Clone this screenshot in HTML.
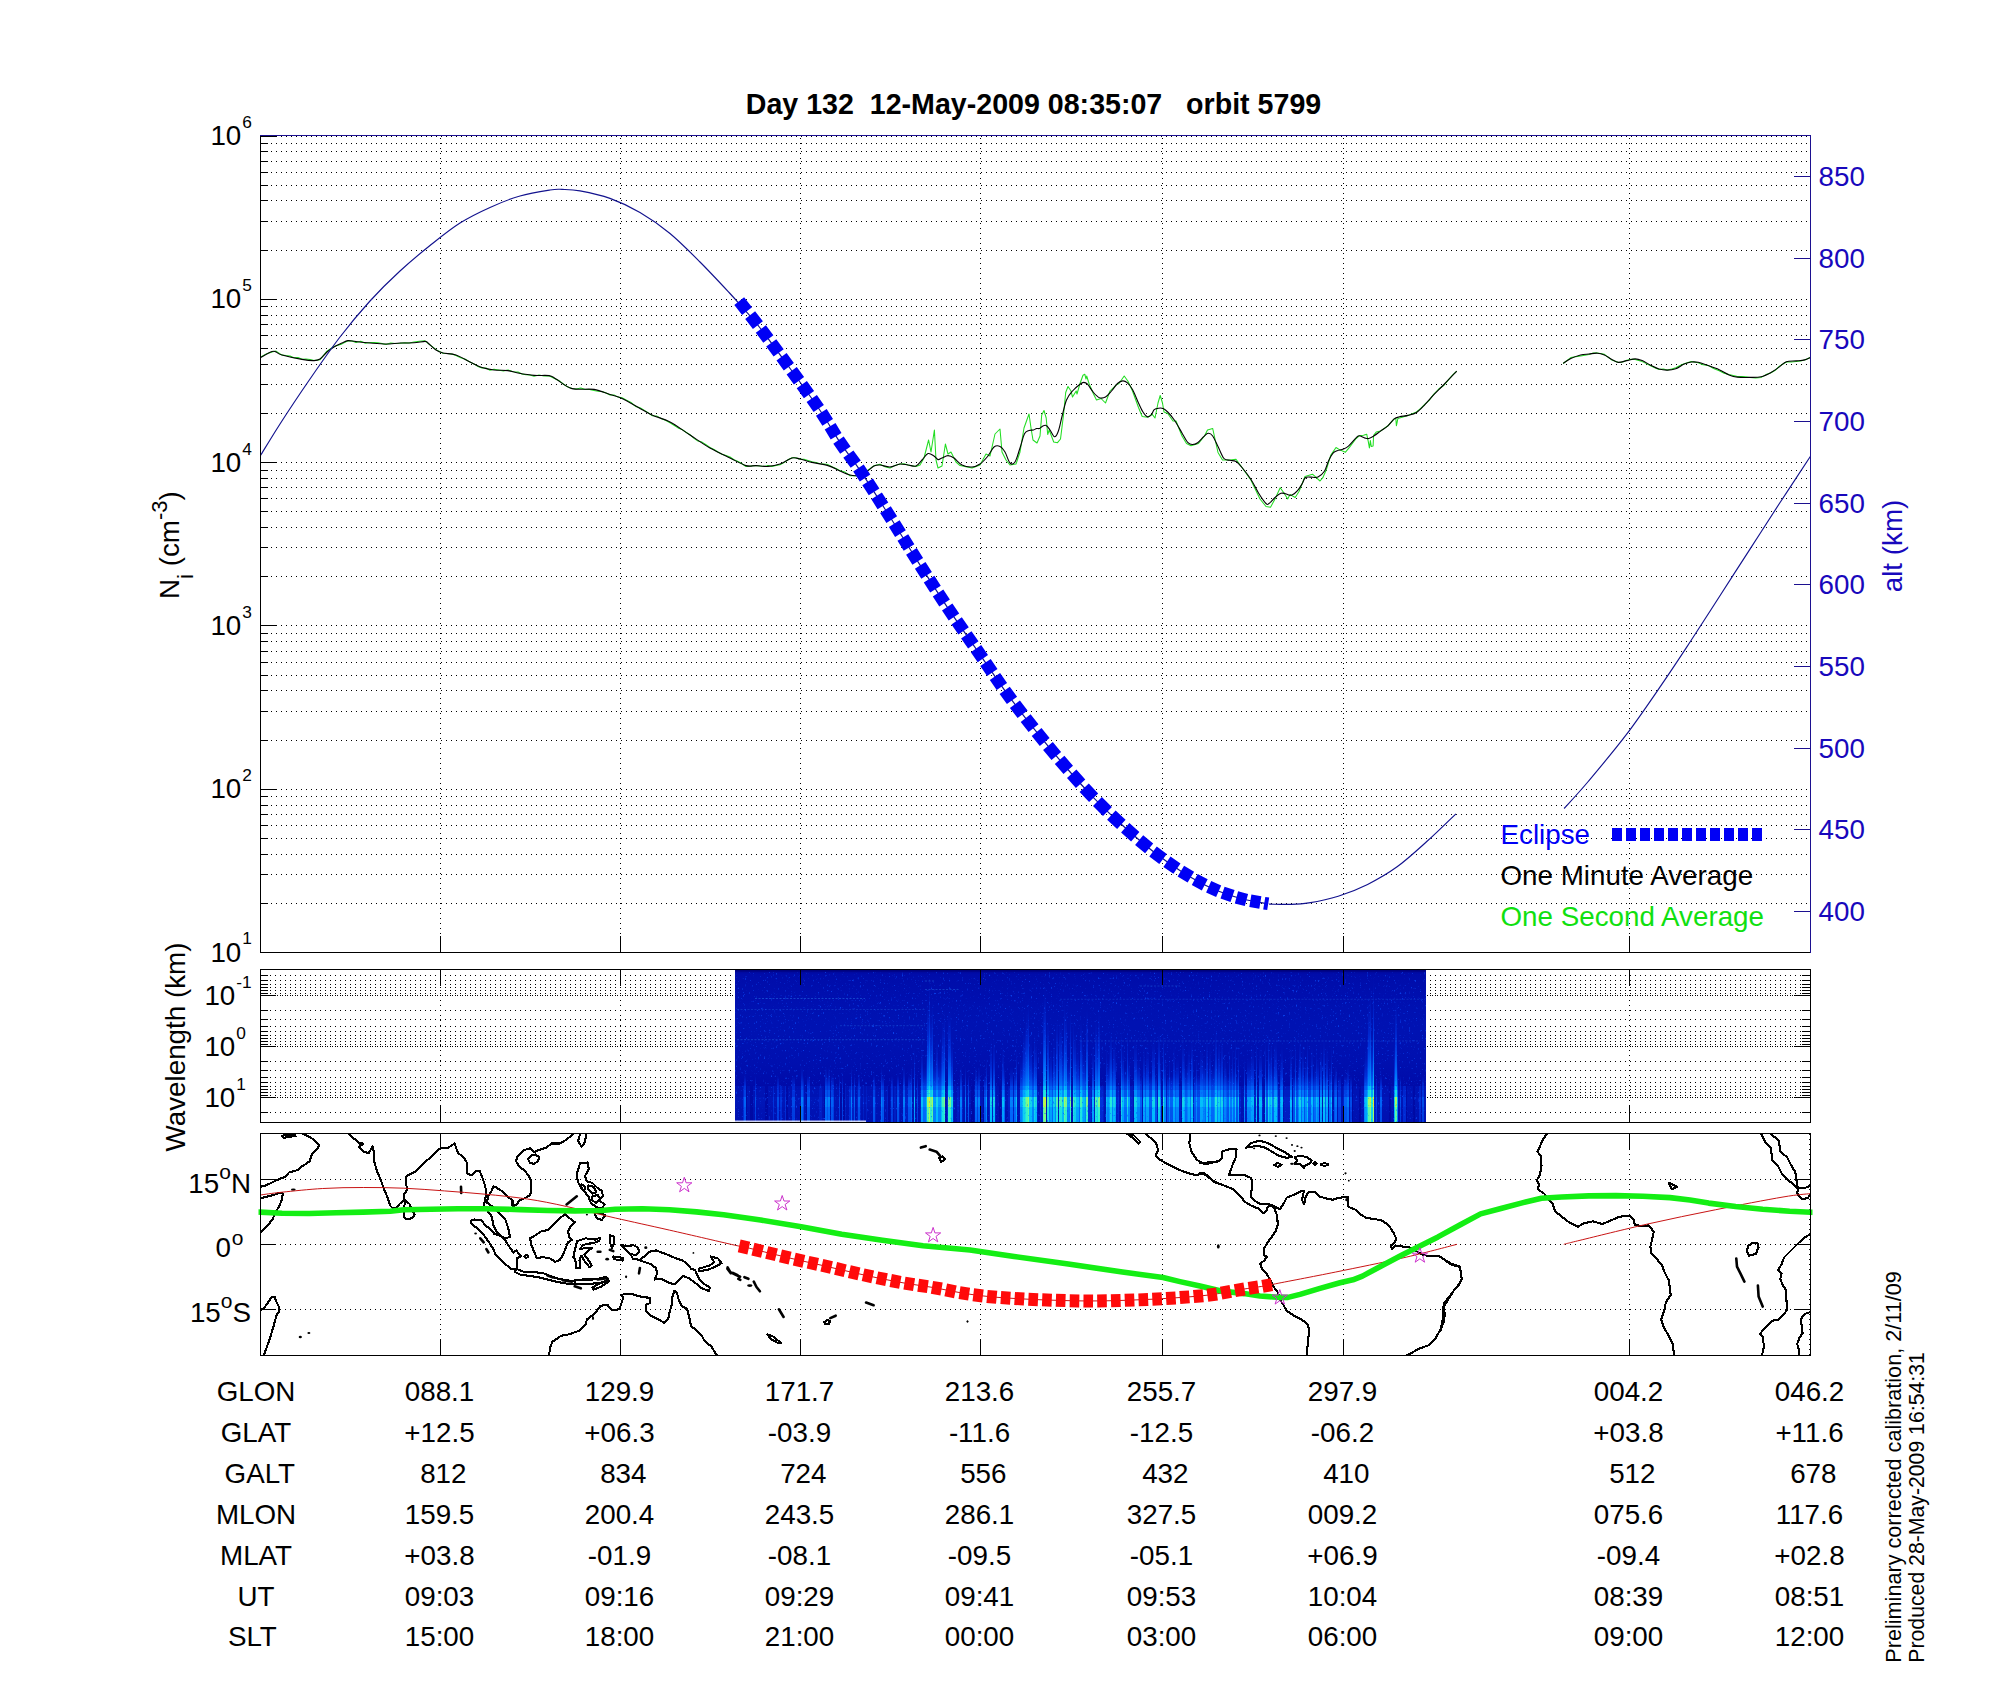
<!DOCTYPE html>
<html><head><meta charset="utf-8"><title>chart</title><style>html,body{margin:0;padding:0;background:#fff}body{width:2000px;height:1700px;overflow:hidden;font-family:"Liberation Sans",sans-serif}</style></head><body>
<svg width="2000" height="1700" viewBox="0 0 2000 1700" style="display:block">
<rect width="2000" height="1700" fill="#fff"/>
<g shape-rendering="crispEdges">
<path d="M261,136.5H1810M261,903.5H1810M261,874.5H1810M261,854.5H1810M261,838.5H1810M261,825.5H1810M261,814.5H1810M261,805.5H1810M261,796.5H1810M261,789.5H1810M261,740.5H1810M261,711.5H1810M261,690.5H1810M261,675.5H1810M261,662.5H1810M261,651.5H1810M261,641.5H1810M261,633.5H1810M261,625.5H1810M261,576.5H1810M261,547.5H1810M261,527.5H1810M261,511.5H1810M261,498.5H1810M261,487.5H1810M261,478.5H1810M261,470.5H1810M261,462.5H1810M261,413.5H1810M261,384.5H1810M261,364.5H1810M261,348.5H1810M261,335.5H1810M261,324.5H1810M261,315.5H1810M261,306.5H1810M261,299.5H1810M261,250.5H1810M261,221.5H1810M261,200.5H1810M261,185.5H1810M261,172.5H1810M261,161.5H1810M261,151.5H1810M261,143.5H1810" stroke="#000" stroke-width="1" stroke-dasharray="1 4" fill="none"/>
<path d="M440.5,138V952M620.5,138V952M800.5,138V952M980.5,138V952M1162.5,138V952M1343.5,138V952M1629.5,138V952" stroke="#000" stroke-width="1" stroke-dasharray="1 4" fill="none"/>
</g>
<g clip-path="url(#cp1)"><path d="M260.4,357.2 L266.2,353.9 L272.0,351.9 L276.0,351.1 L282.0,355.1 L286.0,355.6 L290.0,355.9 L294.0,357.7 L298.0,357.6 L302.0,359.3 L306.0,358.9 L310.0,359.4 L314.0,360.4 L320.0,359.7 L327.0,351.2 L334.0,346.4 L338.0,345.3 L342.0,343.9 L348.0,340.8 L352.0,340.9 L356.0,342.6 L360.7,341.2 L365.3,343.3 L370.0,342.6 L374.0,342.5 L378.0,342.7 L382.0,343.4 L386.0,344.6 L390.7,343.0 L395.3,343.5 L400.0,343.3 L404.7,342.7 L409.3,343.0 L414.0,341.9 L419.5,341.2 L425.0,340.8 L428.0,343.4 L432.0,346.4 L436.0,349.6 L443.0,353.2 L447.3,353.6 L451.7,353.9 L456.0,355.6 L460.7,357.7 L465.3,359.2 L470.0,362.1 L474.0,363.9 L478.0,366.5 L482.0,368.1 L486.0,368.0 L490.0,370.2 L494.0,369.2 L498.7,370.0 L503.3,370.9 L508.0,369.9 L513.0,371.8 L518.0,372.1 L522.0,373.9 L526.0,374.7 L530.0,374.9 L534.0,376.2 L539.0,375.1 L544.0,375.9 L549.0,375.8 L556.0,379.2 L560.0,381.3 L564.0,384.5 L568.0,387.1 L572.0,388.5 L576.4,389.1 L580.8,388.0 L585.2,389.5 L589.6,389.5 L594.0,390.4 L598.0,391.3 L602.0,391.6 L606.0,393.1 L610.0,394.9 L614.0,394.9 L618.0,397.1 L622.0,397.7 L626.5,400.1 L631.0,402.5 L635.5,406.4 L640.0,407.7 L644.0,410.1 L648.0,412.6 L652.0,415.7 L656.5,415.9 L661.0,418.4 L665.5,420.3 L670.0,422.8 L674.0,425.2 L678.0,427.9 L682.0,429.4 L686.0,432.2 L690.0,434.7 L694.0,438.4 L698.0,441.1 L702.0,442.1 L706.0,444.8 L710.0,447.5 L714.0,449.5 L718.0,452.0 L722.0,454.2 L726.0,455.5 L730.0,457.0 L734.0,459.7 L738.0,461.5 L742.0,463.8 L746.0,466.5 L751.0,466.0 L756.0,465.6 L760.0,466.1 L764.0,466.5 L768.0,465.5 L772.0,466.4 L776.0,465.4 L780.0,464.7 L784.0,462.6 L788.0,459.8 L792.0,457.8 L796.0,457.7 L800.0,459.3 L804.0,459.3 L808.0,460.4 L812.0,461.8 L816.0,462.5 L820.0,463.7 L824.0,463.9 L828.0,464.6 L832.0,466.7 L836.0,468.4 L840.0,470.7 L845.0,472.1 L850.0,475.7 L857.0,475.8 L861.5,473.1 L866.0,471.5 L870.0,468.7 L874.0,465.7 L880.0,464.2 L885.0,466.7 L890.0,468.0 L895.0,465.4 L900.0,464.0 L904.0,463.7 L908.0,465.0 L916.0,466.4 L920.0,465.0 L924.0,458.0 L928.6,440.0 L931.0,452.0 L934.4,430.0 L936.0,460.0 L938.0,468.0 L942.0,466.0 L945.4,444.0 L948.0,454.0 L951.0,452.0 L956.0,462.0 L960.0,465.6 L972.0,468.0 L980.0,465.0 L986.0,454.0 L990.0,456.0 L995.0,434.0 L1000.0,429.0 L1002.0,452.0 L1006.0,460.0 L1010.0,465.0 L1016.0,464.0 L1020.0,452.0 L1024.0,428.0 L1029.0,414.0 L1031.0,428.0 L1033.0,440.0 L1037.0,443.0 L1040.0,436.0 L1041.7,415.0 L1044.0,410.5 L1046.2,418.0 L1047.7,434.5 L1049.2,430.0 L1053.7,442.0 L1057.5,442.7 L1060.5,439.0 L1063.5,415.0 L1065.7,392.5 L1068.0,386.5 L1071.0,391.0 L1072.5,397.0 L1076.2,391.0 L1077.0,394.0 L1080.0,383.5 L1083.0,375.2 L1084.8,374.2 L1086.0,379.0 L1086.7,376.0 L1089.0,383.5 L1093.5,394.0 L1096.5,400.0 L1101.0,398.5 L1105.5,403.0 L1110.0,391.0 L1116.0,385.0 L1119.0,383.5 L1124.2,376.0 L1128.0,381.2 L1132.5,391.0 L1138.5,407.5 L1142.2,416.5 L1147.5,417.2 L1152.0,414.2 L1155.0,418.0 L1158.0,403.0 L1160.2,395.5 L1162.5,403.0 L1164.0,412.0 L1167.7,413.5 L1173.0,421.0 L1176.0,421.0 L1182.0,436.0 L1186.5,443.5 L1191.0,445.7 L1198.5,443.5 L1204.5,436.0 L1207.5,430.0 L1212.7,428.5 L1215.0,439.0 L1218.0,452.5 L1222.5,460.0 L1230.0,460.0 L1236.0,459.2 L1242.0,467.5 L1251.0,480.2 L1260.0,499.0 L1266.0,506.5 L1270.5,507.2 L1275.0,499.0 L1280.2,487.7 L1284.0,493.0 L1287.7,499.0 L1290.0,494.5 L1295.2,497.5 L1299.0,491.5 L1305.0,476.5 L1312.5,474.2 L1320.0,481.0 L1322.8,477.7 L1326.5,469.2 L1330.7,455.4 L1336.0,447.5 L1340.2,450.1 L1345.5,452.2 L1349.8,446.9 L1356.1,438.5 L1359.3,435.8 L1363.5,435.3 L1366.7,434.2 L1368.3,441.7 L1369.4,448.0 L1370.4,440.6 L1371.2,446.4 L1373.1,445.9 L1373.6,435.3 L1376.2,432.1 L1380.5,431.1 L1387.9,425.8 L1394.2,418.9 L1395.8,418.4 L1396.4,425.8 L1397.9,418.4 L1408.0,415.4 L1416.5,411.9 L1420.7,408.3 L1424.9,404.2 L1429.2,400.4 L1433.4,394.6 L1438.7,389.0 L1444.0,385.2 L1448.2,380.1 L1452.5,375.1 L1456.7,371.2" stroke="#22dd22" stroke-width="1.05" fill="none" stroke-linejoin="round"/><path d="M1563.1,363.5 L1570.8,357.6 L1575.7,356.8 L1580.6,356.0 L1584.8,355.2 L1589.0,354.4 L1593.2,353.1 L1597.4,352.9 L1604.4,354.3 L1611.4,359.7 L1618.4,362.5 L1622.6,362.1 L1626.8,360.3 L1631.0,359.2 L1635.2,359.5 L1642.2,361.6 L1646.4,363.6 L1650.6,365.8 L1654.8,367.7 L1659.0,369.5 L1663.2,369.0 L1667.4,370.1 L1671.6,369.1 L1675.8,367.8 L1680.0,365.5 L1684.2,363.7 L1691.2,361.5 L1698.2,362.7 L1703.1,364.8 L1708.0,365.4 L1713.6,368.5 L1719.2,370.7 L1724.1,373.2 L1729.0,374.6 L1733.2,375.4 L1737.4,376.6 L1741.6,376.6 L1745.8,376.7 L1750.0,377.6 L1755.6,377.9 L1761.2,377.4 L1766.1,374.6 L1771.0,372.8 L1775.2,370.3 L1779.4,366.1 L1786.4,362.0 L1791.3,362.1 L1796.2,361.5 L1800.4,360.9 L1804.6,359.9 L1810.2,357.5" stroke="#22dd22" stroke-width="1.05" fill="none" stroke-linejoin="round"/><path d="M260.4,357.6 C262.3,356.6 269.4,352.5 272.0,351.6 C274.6,350.7 274.3,351.4 276.0,352.0 C277.7,352.6 277.7,353.8 282.0,355.0 C286.3,356.2 296.7,358.5 302.0,359.4 C307.3,360.3 311.0,360.7 314.0,360.6 C317.0,360.5 317.8,360.4 320.0,359.0 C322.2,357.6 324.7,354.0 327.0,352.0 C329.3,350.0 331.5,348.5 334.0,347.0 C336.5,345.5 339.7,344.1 342.0,343.0 C344.3,341.9 345.7,340.8 348.0,340.6 C350.3,340.4 352.3,341.2 356.0,341.6 C359.7,342.0 365.0,342.6 370.0,343.0 C375.0,343.4 381.0,344.0 386.0,344.0 C391.0,344.0 395.3,343.2 400.0,343.0 C404.7,342.8 409.8,343.1 414.0,342.8 C418.2,342.5 422.7,341.4 425.0,341.4 C427.3,341.4 426.2,341.6 428.0,343.0 C429.8,344.4 433.5,348.3 436.0,350.0 C438.5,351.7 439.7,352.2 443.0,353.0 C446.3,353.8 451.5,353.5 456.0,355.0 C460.5,356.5 465.7,359.9 470.0,362.0 C474.3,364.1 478.0,366.3 482.0,367.6 C486.0,368.9 489.7,369.5 494.0,370.0 C498.3,370.5 504.0,370.1 508.0,370.6 C512.0,371.1 513.7,372.2 518.0,373.0 C522.3,373.8 528.8,375.0 534.0,375.4 C539.2,375.8 545.3,375.0 549.0,375.6 C552.7,376.2 552.2,376.8 556.0,379.0 C559.8,381.2 565.7,386.9 572.0,388.6 C578.3,390.3 587.7,388.4 594.0,389.4 C600.3,390.4 605.3,393.1 610.0,394.6 C614.7,396.1 617.0,396.1 622.0,398.4 C627.0,400.7 635.0,405.6 640.0,408.4 C645.0,411.2 647.0,412.7 652.0,415.0 C657.0,417.3 663.7,418.7 670.0,422.0 C676.3,425.3 683.3,430.7 690.0,435.0 C696.7,439.3 703.3,444.2 710.0,448.0 C716.7,451.8 724.0,455.1 730.0,458.0 C736.0,460.9 741.7,464.3 746.0,465.6 C750.3,466.9 752.3,465.5 756.0,465.6 C759.7,465.7 764.0,466.7 768.0,466.4 C772.0,466.1 776.0,465.4 780.0,464.0 C784.0,462.6 788.7,458.8 792.0,458.0 C795.3,457.2 796.7,458.3 800.0,459.0 C803.3,459.7 807.3,461.3 812.0,462.4 C816.7,463.5 823.3,464.2 828.0,465.6 C832.7,467.0 836.3,469.4 840.0,471.0 C843.7,472.6 847.2,474.2 850.0,475.0 C852.8,475.8 854.3,476.1 857.0,475.6 C859.7,475.1 863.2,473.6 866.0,472.0 C868.8,470.4 871.7,467.2 874.0,466.0 C876.3,464.8 877.3,464.8 880.0,465.0 C882.7,465.2 886.7,467.2 890.0,467.0 C893.3,466.8 897.0,464.3 900.0,464.0 C903.0,463.7 905.3,464.7 908.0,465.0 C910.7,465.3 913.7,466.8 916.0,466.0 C918.3,465.2 920.0,462.1 922.0,460.0 C924.0,457.9 926.0,454.3 928.0,453.6 C930.0,452.9 932.3,455.0 934.0,456.0 C935.7,457.0 936.7,459.3 938.0,459.6 C939.3,459.9 940.3,458.7 942.0,458.0 C943.7,457.3 946.0,455.6 948.0,455.6 C950.0,455.6 951.7,456.4 954.0,458.0 C956.3,459.6 959.0,463.5 962.0,465.0 C965.0,466.5 969.0,467.2 972.0,467.0 C975.0,466.8 977.3,465.8 980.0,464.0 C982.7,462.2 985.7,458.8 988.0,456.0 C990.3,453.2 992.0,448.6 994.0,447.0 C996.0,445.4 998.2,445.6 1000.0,446.4 C1001.8,447.2 1003.3,449.2 1005.0,452.0 C1006.7,454.8 1008.3,461.3 1010.0,463.0 C1011.7,464.7 1013.3,464.5 1015.0,462.0 C1016.7,459.5 1018.4,452.7 1020.0,448.0 C1021.6,443.3 1023.0,436.6 1024.5,433.7 C1026.0,430.8 1027.5,431.0 1029.0,430.4 C1030.5,429.8 1032.2,430.3 1033.5,430.0 C1034.8,429.7 1035.5,428.8 1036.5,428.5 C1037.5,428.2 1038.5,428.9 1039.5,428.5 C1040.5,428.1 1041.4,426.7 1042.5,426.2 C1043.6,425.7 1045.0,424.9 1046.2,425.5 C1047.5,426.1 1048.6,428.1 1050.0,430.0 C1051.4,431.9 1053.1,436.4 1054.5,436.7 C1055.9,436.9 1057.0,434.9 1058.2,431.5 C1059.5,428.1 1060.6,421.8 1062.0,416.5 C1063.4,411.2 1064.8,404.2 1066.5,400.0 C1068.2,395.8 1070.2,393.6 1072.5,391.0 C1074.8,388.4 1078.1,385.6 1080.0,384.2 C1081.9,382.8 1082.5,382.4 1083.7,382.4 C1085.0,382.4 1085.9,382.5 1087.5,384.2 C1089.1,385.9 1091.5,390.2 1093.5,392.5 C1095.5,394.8 1097.5,396.9 1099.5,397.7 C1101.5,398.4 1103.5,398.1 1105.5,397.0 C1107.5,395.9 1109.5,393.2 1111.5,391.0 C1113.5,388.8 1115.6,385.2 1117.5,383.5 C1119.4,381.8 1121.1,381.0 1122.7,380.9 C1124.3,380.8 1125.6,381.3 1127.2,382.7 C1128.8,384.1 1130.6,386.1 1132.5,389.5 C1134.4,392.9 1136.8,399.2 1138.5,403.0 C1140.2,406.8 1141.5,409.7 1143.0,412.0 C1144.5,414.3 1146.1,416.3 1147.5,416.8 C1148.9,417.3 1150.1,416.2 1151.2,415.0 C1152.3,413.8 1153.0,410.8 1154.2,409.7 C1155.5,408.6 1157.2,408.4 1158.7,408.2 C1160.2,408.0 1161.7,407.9 1163.2,408.5 C1164.7,409.1 1165.8,410.1 1167.7,412.0 C1169.6,413.9 1172.1,416.7 1174.5,420.2 C1176.9,423.7 1179.8,429.2 1182.0,433.0 C1184.2,436.8 1186.2,440.8 1188.0,442.7 C1189.8,444.6 1190.9,444.5 1192.5,444.5 C1194.1,444.5 1195.8,444.0 1197.7,442.7 C1199.6,441.4 1202.0,438.3 1203.7,436.7 C1205.5,435.1 1206.7,433.4 1208.2,433.3 C1209.7,433.2 1211.1,433.8 1212.7,436.0 C1214.3,438.2 1216.1,442.8 1218.0,446.5 C1219.9,450.2 1222.0,456.2 1224.0,458.5 C1226.0,460.8 1228.0,459.8 1230.0,460.3 C1232.0,460.8 1234.0,460.3 1236.0,461.5 C1238.0,462.7 1239.5,464.5 1242.0,467.5 C1244.5,470.5 1248.2,475.2 1251.0,479.5 C1253.8,483.8 1256.0,489.0 1258.5,493.0 C1261.0,497.0 1264.2,501.8 1266.0,503.5 C1267.8,505.2 1267.5,504.5 1269.0,503.5 C1270.5,502.5 1273.0,499.2 1275.0,497.5 C1277.0,495.8 1279.2,493.9 1281.0,493.3 C1282.8,492.7 1283.8,493.4 1285.5,493.7 C1287.2,494.0 1289.5,495.7 1291.5,495.2 C1293.5,494.7 1295.8,492.6 1297.5,490.7 C1299.2,488.8 1300.7,486.2 1302.0,484.0 C1303.3,481.8 1303.9,478.8 1305.3,477.7 C1306.7,476.6 1308.5,477.2 1310.6,477.1 C1312.7,477.0 1315.7,478.1 1318.0,477.1 C1320.3,476.1 1322.6,474.0 1324.4,471.3 C1326.2,468.6 1327.2,463.7 1328.6,460.7 C1330.0,457.7 1331.4,455.0 1332.8,453.3 C1334.2,451.6 1335.3,451.4 1337.1,450.7 C1338.9,450.0 1341.5,449.9 1343.4,449.1 C1345.3,448.3 1346.6,447.8 1348.7,445.9 C1350.8,444.0 1354.3,439.6 1356.1,437.9 C1357.9,436.2 1357.9,435.8 1359.3,435.8 C1360.7,435.8 1363.0,437.4 1364.6,437.9 C1366.2,438.3 1367.2,438.9 1368.8,438.5 C1370.4,438.1 1372.1,437.0 1374.1,435.8 C1376.0,434.6 1378.2,432.8 1380.5,431.1 C1382.8,429.4 1385.6,427.8 1387.9,425.8 C1390.2,423.8 1392.3,420.4 1394.2,418.9 C1396.1,417.4 1397.2,417.4 1399.5,416.8 C1401.8,416.2 1405.2,416.1 1408.0,415.4 C1410.8,414.7 1413.7,414.3 1416.5,412.5 C1419.3,410.7 1422.1,407.5 1424.9,404.6 C1427.7,401.7 1430.2,398.5 1433.4,395.1 C1436.6,391.8 1440.1,388.5 1444.0,384.5 C1447.9,380.5 1454.6,373.4 1456.7,371.2" stroke="#000" stroke-width="1.1" fill="none"/><path d="M1563.1,363.4 C1564.4,362.6 1567.9,359.9 1570.8,358.5 C1573.7,357.1 1577.6,355.8 1580.6,355.0 C1583.6,354.2 1586.2,354.3 1589.0,354.0 C1591.8,353.7 1594.8,353.0 1597.4,353.2 C1600.0,353.4 1602.1,354.0 1604.4,355.0 C1606.7,356.0 1609.1,358.0 1611.4,359.2 C1613.7,360.4 1615.8,362.2 1618.4,362.4 C1621.0,362.6 1624.0,361.2 1626.8,360.6 C1629.6,360.0 1632.6,358.9 1635.2,358.9 C1637.8,358.9 1639.6,359.6 1642.2,360.6 C1644.8,361.7 1647.8,363.8 1650.6,365.2 C1653.4,366.6 1656.2,368.2 1659.0,369.0 C1661.8,369.8 1664.6,370.2 1667.4,370.1 C1670.2,370.1 1673.0,369.7 1675.8,368.7 C1678.6,367.7 1681.6,365.2 1684.2,364.1 C1686.8,363.0 1688.9,362.3 1691.2,362.0 C1693.5,361.7 1695.4,361.7 1698.2,362.3 C1701.0,362.9 1704.5,364.3 1708.0,365.5 C1711.5,366.7 1715.7,368.1 1719.2,369.7 C1722.7,371.3 1726.0,373.7 1729.0,374.9 C1732.0,376.1 1733.9,376.7 1737.4,377.1 C1740.9,377.5 1746.0,377.5 1750.0,377.4 C1754.0,377.3 1757.7,377.5 1761.2,376.7 C1764.7,375.9 1768.0,374.1 1771.0,372.5 C1774.0,370.9 1776.8,368.7 1779.4,366.9 C1782.0,365.1 1783.6,362.7 1786.4,361.7 C1789.2,360.7 1793.2,361.2 1796.2,360.9 C1799.2,360.6 1802.3,360.5 1804.6,359.9 C1806.9,359.3 1809.3,357.9 1810.2,357.5" stroke="#000" stroke-width="1.1" fill="none"/><path d="M260.5,455.5 C263.8,450.2 271.8,436.8 280.0,424.0 C288.2,411.2 300.0,393.5 310.0,379.0 C320.0,364.5 330.0,350.0 340.0,337.0 C350.0,324.0 360.0,312.0 370.0,301.0 C380.0,290.0 390.0,280.2 400.0,271.0 C410.0,261.8 420.0,253.5 430.0,245.5 C440.0,237.5 450.0,229.3 460.0,223.0 C470.0,216.7 480.0,211.9 490.0,207.4 C500.0,202.9 510.0,198.9 520.0,196.0 C530.0,193.1 543.0,191.1 550.0,190.0 C557.0,188.9 557.0,189.2 562.0,189.4 C567.0,189.6 572.0,189.4 580.0,190.9 C588.0,192.4 600.0,194.8 610.0,198.4 C620.0,202.0 630.0,206.7 640.0,212.5 C650.0,218.3 660.0,225.2 670.0,233.5 C680.0,241.8 690.0,252.0 700.0,262.0 C710.0,272.0 723.0,286.0 730.0,293.5 C737.0,301.0 740.0,304.8 742.0,307.0" stroke="#12128e" stroke-width="1.15" fill="none"/><path d="M1269.1,904.1 C1272.3,904.1 1281.6,904.6 1288.2,904.4 C1294.8,904.2 1300.5,904.3 1308.8,902.9 C1317.1,901.5 1328.4,899.3 1338.2,896.2 C1348.0,893.1 1357.8,889.3 1367.6,884.4 C1377.4,879.5 1387.3,873.9 1397.1,866.8 C1406.9,859.7 1416.7,850.6 1426.5,841.8 C1436.3,833.0 1451.0,818.5 1455.9,813.8" stroke="#12128e" stroke-width="1.15" fill="none"/><path d="M1564.1,808.5 C1568.1,804.0 1577.8,793.9 1588.2,781.5 C1598.6,769.1 1614.2,750.6 1626.5,734.4 C1638.8,718.2 1651.0,700.1 1661.8,684.4 C1672.6,668.7 1681.4,655.2 1691.2,640.3 C1701.0,625.3 1710.8,609.9 1720.6,594.7 C1730.4,579.5 1740.2,564.3 1750.0,549.1 C1759.8,533.9 1769.4,518.9 1779.4,503.5 C1789.5,488.1 1805.2,464.3 1810.3,456.5" stroke="#12128e" stroke-width="1.15" fill="none"/><path d="M742.0,307.0 C745.0,310.5 752.1,317.8 760.1,328.0 C768.1,338.2 780.1,354.8 790.1,368.5 C800.1,382.2 811.7,398.1 820.1,410.5 C828.5,422.9 833.8,433.1 840.3,442.9 C846.8,452.7 851.3,457.4 859.4,469.4 C867.5,481.4 879.0,499.6 888.8,515.0 C898.6,530.5 908.4,546.7 918.2,562.1 C928.0,577.5 937.8,592.9 947.6,607.6 C957.4,622.3 967.3,636.1 977.1,650.3 C986.9,664.5 996.7,679.4 1006.5,692.9 C1016.3,706.4 1026.1,718.9 1035.9,731.2 C1045.7,743.5 1055.5,755.2 1065.3,766.5 C1075.1,777.8 1084.9,788.8 1094.7,798.8 C1104.5,808.8 1114.3,818.0 1124.1,826.8 C1133.9,835.6 1143.7,844.2 1153.5,851.8 C1163.3,859.4 1173.1,866.3 1182.9,872.4 C1192.7,878.5 1202.6,884.1 1212.4,888.5 C1222.2,892.9 1232.5,896.2 1241.8,898.8 C1251.1,901.3 1263.8,903.0 1268.2,903.8" stroke="#12128e" stroke-width="1.15" fill="none"/><path d="M734.3,305.1L742.1,315.1L752.0,307.3L744.1,297.3ZM745.2,319.0L752.9,329.0L762.9,321.2L755.1,311.2ZM755.8,332.8L763.3,342.8L773.4,335.2L765.9,325.2ZM766.2,346.6L773.6,356.6L783.7,349.2L776.3,339.2ZM776.5,360.5L783.8,370.5L793.9,363.1L786.6,353.1ZM786.6,374.4L793.9,384.4L804.1,377.0L796.8,367.0ZM796.7,388.3L803.9,398.3L814.1,390.9L806.9,380.9ZM806.6,402.1L813.6,412.1L823.9,404.9L816.9,394.9ZM816.0,415.8L822.4,425.8L833.0,419.0L826.7,409.0ZM824.7,429.6L830.7,439.6L841.5,433.0L835.5,423.0ZM833.3,443.8L840.2,453.8L850.6,446.6L843.7,436.6ZM843.3,457.8L850.7,467.8L860.8,460.4L853.4,450.4ZM853.2,471.5L859.8,481.5L870.3,474.5L863.7,464.5ZM862.3,485.3L868.8,495.3L879.4,488.5L872.9,478.5ZM871.3,499.2L877.6,509.2L888.3,502.4L881.9,492.4ZM880.1,513.1L886.4,523.1L897.1,516.3L890.8,506.3ZM888.9,526.9L895.1,536.9L905.8,530.3L899.6,520.3ZM897.5,540.8L903.7,550.8L914.4,544.2L908.2,534.2ZM906.1,554.8L912.4,564.8L923.1,558.0L916.8,548.0ZM914.9,568.7L921.3,578.7L931.9,571.9L925.5,561.9ZM923.8,582.6L930.2,592.6L940.8,585.8L934.4,575.8ZM932.8,596.6L939.3,606.6L949.9,599.6L943.3,589.6ZM942.0,610.5L948.7,620.5L959.2,613.5L952.4,603.5ZM951.5,624.5L958.4,634.5L968.8,627.3L961.8,617.3ZM961.1,638.4L968.1,648.4L978.5,641.2L971.5,631.2ZM970.8,652.3L977.7,662.3L988.0,655.1L981.2,645.1ZM980.3,666.1L987.1,676.1L997.5,669.1L990.7,659.1ZM989.8,680.1L996.7,690.1L1007.1,682.9L1000.1,672.9ZM999.6,694.1L1006.9,704.1L1017.1,696.7L1009.8,686.7ZM1009.9,708.1L1017.6,718.1L1027.6,710.5L1019.9,700.5ZM1020.7,722.1L1028.6,732.1L1038.5,724.3L1030.6,714.3ZM1031.7,736.1L1039.8,746.1L1049.6,738.1L1041.5,728.1ZM1043.1,750.0L1051.5,760.0L1061.1,752.0L1052.8,742.0ZM1054.8,764.0L1063.5,774.0L1073.0,765.8L1064.4,755.8ZM1067.0,778.0L1075.9,788.0L1085.3,779.6L1076.4,769.6ZM1079.6,792.0L1089.1,802.0L1098.2,793.4L1088.8,783.4ZM1093.0,806.1L1103.0,815.9L1111.9,806.9L1101.9,797.1ZM1107.1,819.7L1117.1,828.9L1125.6,819.7L1115.6,810.5ZM1121.1,832.5L1131.1,841.4L1139.4,832.0L1129.4,823.1ZM1135.1,844.9L1145.1,853.2L1153.2,843.5L1143.2,835.2ZM1149.3,856.5L1159.3,864.0L1166.8,853.9L1156.8,846.4ZM1163.4,867.0L1173.4,873.8L1180.5,863.4L1170.5,856.6ZM1177.6,876.5L1187.6,882.6L1194.1,871.8L1184.1,865.7ZM1191.8,885.0L1201.8,890.4L1207.7,879.3L1197.7,873.9ZM1206.1,892.5L1216.1,896.9L1221.2,885.4L1211.2,881.0ZM1220.5,898.6L1230.5,902.0L1234.6,890.1L1224.6,886.7ZM1234.8,903.4L1244.8,906.0L1248.1,893.9L1238.1,891.2ZM1249.3,907.0L1259.3,908.7L1261.4,896.3L1251.4,894.6ZM1263.2,909.4L1267.2,910.0L1269.2,897.6L1265.3,896.9Z" fill="#0000f5"/></g>
<g shape-rendering="crispEdges">
<path d="M260,903.5h8M260,874.5h8M260,854.5h8M260,838.5h8M260,825.5h8M260,814.5h8M260,805.5h8M260,796.5h8M260,789.5h16M260,740.5h8M260,711.5h8M260,690.5h8M260,675.5h8M260,662.5h8M260,651.5h8M260,641.5h8M260,633.5h8M260,625.5h16M260,576.5h8M260,547.5h8M260,527.5h8M260,511.5h8M260,498.5h8M260,487.5h8M260,478.5h8M260,470.5h8M260,462.5h16M260,413.5h8M260,384.5h8M260,364.5h8M260,348.5h8M260,335.5h8M260,324.5h8M260,315.5h8M260,306.5h8M260,299.5h16M260,250.5h8M260,221.5h8M260,200.5h8M260,185.5h8M260,172.5h8M260,161.5h8M260,151.5h8M260,143.5h8M260,136.5h16" stroke="#000" stroke-width="1" fill="none"/>
<path d="M440.5,952v-16M620.5,952v-16M800.5,952v-16M980.5,952v-16M1162.5,952v-16M1343.5,952v-16M1629.5,952v-16" stroke="#000" stroke-width="1" fill="none"/>
<line x1="260.5" y1="135" x2="260.5" y2="953" stroke="#000" stroke-width="1" />
<line x1="260" y1="952.5" x2="1811" y2="952.5" stroke="#000" stroke-width="1" />
<line x1="260" y1="135.5" x2="1811" y2="135.5" stroke="#1c1090" stroke-width="1" />
<line x1="1810.5" y1="135" x2="1810.5" y2="953" stroke="#1c1090" stroke-width="1" />
<path d="M1810,911.5h-16M1810,829.5h-16M1810,748.5h-16M1810,666.5h-16M1810,584.5h-16M1810,503.5h-16M1810,421.5h-16M1810,339.5h-16M1810,258.5h-16M1810,176.5h-16" stroke="#1c1090" stroke-width="1" fill="none"/>
</g>
<text x="241.3" y="961.6" font-family="Liberation Sans, sans-serif" font-size="27.78" text-anchor="end">10</text>
<text x="242.3" y="944.4" font-family="Liberation Sans, sans-serif" font-size="17.3">1</text>
<text x="241.3" y="798.3" font-family="Liberation Sans, sans-serif" font-size="27.78" text-anchor="end">10</text>
<text x="242.3" y="781.1" font-family="Liberation Sans, sans-serif" font-size="17.3">2</text>
<text x="241.3" y="635.0" font-family="Liberation Sans, sans-serif" font-size="27.78" text-anchor="end">10</text>
<text x="242.3" y="617.8" font-family="Liberation Sans, sans-serif" font-size="17.3">3</text>
<text x="241.3" y="471.7" font-family="Liberation Sans, sans-serif" font-size="27.78" text-anchor="end">10</text>
<text x="242.3" y="454.5" font-family="Liberation Sans, sans-serif" font-size="17.3">4</text>
<text x="241.3" y="308.4" font-family="Liberation Sans, sans-serif" font-size="27.78" text-anchor="end">10</text>
<text x="242.3" y="291.2" font-family="Liberation Sans, sans-serif" font-size="17.3">5</text>
<text x="241.3" y="145.1" font-family="Liberation Sans, sans-serif" font-size="27.78" text-anchor="end">10</text>
<text x="242.3" y="127.9" font-family="Liberation Sans, sans-serif" font-size="17.3">6</text>
<text x="1818.5" y="921.0" font-family="Liberation Sans, sans-serif" font-size="27.78" fill="#1808bc">400</text>
<text x="1818.5" y="839.4" font-family="Liberation Sans, sans-serif" font-size="27.78" fill="#1808bc">450</text>
<text x="1818.5" y="757.6" font-family="Liberation Sans, sans-serif" font-size="27.78" fill="#1808bc">500</text>
<text x="1818.5" y="675.9" font-family="Liberation Sans, sans-serif" font-size="27.78" fill="#1808bc">550</text>
<text x="1818.5" y="594.2" font-family="Liberation Sans, sans-serif" font-size="27.78" fill="#1808bc">600</text>
<text x="1818.5" y="512.6" font-family="Liberation Sans, sans-serif" font-size="27.78" fill="#1808bc">650</text>
<text x="1818.5" y="430.9" font-family="Liberation Sans, sans-serif" font-size="27.78" fill="#1808bc">700</text>
<text x="1818.5" y="349.1" font-family="Liberation Sans, sans-serif" font-size="27.78" fill="#1808bc">750</text>
<text x="1818.5" y="267.5" font-family="Liberation Sans, sans-serif" font-size="27.78" fill="#1808bc">800</text>
<text x="1818.5" y="185.8" font-family="Liberation Sans, sans-serif" font-size="27.78" fill="#1808bc">850</text>
<text x="1033.5" y="113.5" font-family="Liberation Sans, sans-serif" font-size="28.6" font-weight="bold" text-anchor="middle" xml:space="preserve">Day 132  12-May-2009 08:35:07   orbit 5799</text>
<g transform="translate(179,599) rotate(-90)"><text x="0" y="0" font-family="Liberation Sans, sans-serif" font-size="27.78" xml:space="preserve">N<tspan font-size="22" dy="13.8">i</tspan><tspan dy="-13.8"> (cm</tspan><tspan font-size="22" dy="-12.2">-3</tspan><tspan dy="12.2">)</tspan></text></g>
<g transform="translate(1901.5,546) rotate(-90)"><text x="0" y="0" font-family="Liberation Sans, sans-serif" font-size="27.78" text-anchor="middle" fill="#1808bc">alt (km)</text></g>
<text x="1500.5" y="843.5" font-family="Liberation Sans, sans-serif" font-size="27.78" fill="#0000f5">Eclipse</text>
<text x="1500.5" y="884.5" font-family="Liberation Sans, sans-serif" font-size="27.78">One Minute Average</text>
<text x="1500.5" y="925.5" font-family="Liberation Sans, sans-serif" font-size="27.78" fill="#10e010">One Second Average</text>
<path d="M1612,828h10v13h-10zM1626,828h10v13h-10zM1640,828h10v13h-10zM1654,828h10v13h-10zM1668,828h10v13h-10zM1682,828h10v13h-10zM1696,828h10v13h-10zM1710,828h10v13h-10zM1724,828h10v13h-10zM1738,828h10v13h-10zM1752,828h10v13h-10z" fill="#0000f5" shape-rendering="crispEdges"/>
<defs><clipPath id="cp1"><rect x="260" y="135" width="1551" height="818"/></clipPath></defs>
<g shape-rendering="crispEdges">
<path d="M260,975.5H1810M260,980.5H1810M260,984.5H1810M260,987.5H1810M260,990.5H1810M260,993.5H1810M260,1010.5H1810M260,1019.5H1810M260,1026.5H1810M260,1031.5H1810M260,1035.5H1810M260,1038.5H1810M260,1041.5H1810M260,1044.5H1810M260,1061.5H1810M260,1070.5H1810M260,1077.5H1810M260,1082.5H1810M260,1086.5H1810M260,1089.5H1810M260,1092.5H1810M260,1095.5H1810M260,1112.5H1810" stroke="#000" stroke-width="1" stroke-dasharray="1 4" fill="none"/>
<path d="M260,995.5H1810M260,1046.5H1810M260,1097.5H1810" stroke="#000" stroke-width="1" stroke-dasharray="1 4" fill="none"/>
<path d="M260,995.5H1810M260,1046.5H1810M260,1097.5H1810" stroke="#000" stroke-width="1" stroke-dasharray="1 4" stroke-dashoffset="-2" fill="none"/>
<path d="M440.5,970V1122M620.5,970V1122M800.5,970V1122M980.5,970V1122M1162.5,970V1122M1343.5,970V1122M1629.5,970V1122" stroke="#000" stroke-width="1" stroke-dasharray="1 4" fill="none"/>
</g>
<defs><linearGradient id="s0" x1="0" y1="0" x2="0" y2="1"><stop offset="0.000" stop-color="#00048e"/><stop offset="0.030" stop-color="#000caa"/><stop offset="0.100" stop-color="#000eac"/><stop offset="0.180" stop-color="#000faf"/><stop offset="0.260" stop-color="#0011b1"/><stop offset="0.340" stop-color="#0012b2"/><stop offset="0.420" stop-color="#0012b2"/><stop offset="0.500" stop-color="#0011b1"/><stop offset="0.580" stop-color="#0010b0"/><stop offset="0.640" stop-color="#000fae"/><stop offset="0.700" stop-color="#000dac"/><stop offset="0.762" stop-color="#000ba9"/><stop offset="0.763" stop-color="#000ba9"/><stop offset="0.791" stop-color="#000ba8"/><stop offset="0.792" stop-color="#000ba8"/><stop offset="0.837" stop-color="#000ba7"/><stop offset="0.838" stop-color="#000ba7"/><stop offset="0.901" stop-color="#000aa5"/><stop offset="0.901" stop-color="#000aa5"/><stop offset="1.000" stop-color="#0009a2"/></linearGradient><linearGradient id="s1" x1="0" y1="0" x2="0" y2="1"><stop offset="0.000" stop-color="#00048e"/><stop offset="0.030" stop-color="#000caa"/><stop offset="0.100" stop-color="#000eac"/><stop offset="0.180" stop-color="#000faf"/><stop offset="0.260" stop-color="#0011b1"/><stop offset="0.340" stop-color="#0012b2"/><stop offset="0.420" stop-color="#0012b2"/><stop offset="0.500" stop-color="#0011b1"/><stop offset="0.580" stop-color="#0010b0"/><stop offset="0.640" stop-color="#000fae"/><stop offset="0.700" stop-color="#000dac"/><stop offset="0.762" stop-color="#000ba9"/><stop offset="0.763" stop-color="#0013b4"/><stop offset="0.791" stop-color="#0012b3"/><stop offset="0.792" stop-color="#0014b5"/><stop offset="0.837" stop-color="#0013b3"/><stop offset="0.838" stop-color="#0017b9"/><stop offset="0.901" stop-color="#0015b6"/><stop offset="0.901" stop-color="#0013b4"/><stop offset="1.000" stop-color="#0011b1"/></linearGradient><linearGradient id="s2" x1="0" y1="0" x2="0" y2="1"><stop offset="0.000" stop-color="#00048e"/><stop offset="0.030" stop-color="#000caa"/><stop offset="0.100" stop-color="#000eac"/><stop offset="0.180" stop-color="#000faf"/><stop offset="0.260" stop-color="#0011b1"/><stop offset="0.340" stop-color="#0012b2"/><stop offset="0.420" stop-color="#0012b2"/><stop offset="0.500" stop-color="#0011b1"/><stop offset="0.580" stop-color="#0010b0"/><stop offset="0.640" stop-color="#000fae"/><stop offset="0.700" stop-color="#000dac"/><stop offset="0.762" stop-color="#000ba9"/><stop offset="0.763" stop-color="#001bbe"/><stop offset="0.791" stop-color="#001abd"/><stop offset="0.792" stop-color="#001dc2"/><stop offset="0.837" stop-color="#001cc0"/><stop offset="0.838" stop-color="#0024cb"/><stop offset="0.901" stop-color="#0022c9"/><stop offset="0.901" stop-color="#001fc4"/><stop offset="1.000" stop-color="#001dc1"/></linearGradient><linearGradient id="s3" x1="0" y1="0" x2="0" y2="1"><stop offset="0.000" stop-color="#00048e"/><stop offset="0.030" stop-color="#000caa"/><stop offset="0.100" stop-color="#000eac"/><stop offset="0.180" stop-color="#000faf"/><stop offset="0.260" stop-color="#0011b1"/><stop offset="0.340" stop-color="#0012b2"/><stop offset="0.420" stop-color="#0012b2"/><stop offset="0.500" stop-color="#0011b1"/><stop offset="0.580" stop-color="#0010b0"/><stop offset="0.640" stop-color="#000fae"/><stop offset="0.700" stop-color="#000dac"/><stop offset="0.762" stop-color="#000ba9"/><stop offset="0.763" stop-color="#0023c9"/><stop offset="0.791" stop-color="#0022c8"/><stop offset="0.792" stop-color="#0026ce"/><stop offset="0.837" stop-color="#0025cc"/><stop offset="0.838" stop-color="#0035db"/><stop offset="0.901" stop-color="#0032da"/><stop offset="0.901" stop-color="#002bd4"/><stop offset="1.000" stop-color="#0029d1"/></linearGradient><linearGradient id="s4" x1="0" y1="0" x2="0" y2="1"><stop offset="0.000" stop-color="#00048e"/><stop offset="0.030" stop-color="#000caa"/><stop offset="0.100" stop-color="#000eac"/><stop offset="0.180" stop-color="#000faf"/><stop offset="0.260" stop-color="#0011b1"/><stop offset="0.340" stop-color="#0012b2"/><stop offset="0.420" stop-color="#0012b2"/><stop offset="0.500" stop-color="#0011b1"/><stop offset="0.580" stop-color="#0010b0"/><stop offset="0.640" stop-color="#000fae"/><stop offset="0.700" stop-color="#000dac"/><stop offset="0.762" stop-color="#0024cb"/><stop offset="0.763" stop-color="#002ad3"/><stop offset="0.791" stop-color="#0029d2"/><stop offset="0.792" stop-color="#0032da"/><stop offset="0.837" stop-color="#0030d8"/><stop offset="0.838" stop-color="#004de9"/><stop offset="0.901" stop-color="#004ae8"/><stop offset="0.901" stop-color="#003fe1"/><stop offset="1.000" stop-color="#003bdf"/></linearGradient><linearGradient id="s5" x1="0" y1="0" x2="0" y2="1"><stop offset="0.000" stop-color="#00048e"/><stop offset="0.030" stop-color="#000caa"/><stop offset="0.100" stop-color="#000eac"/><stop offset="0.180" stop-color="#000faf"/><stop offset="0.260" stop-color="#0011b1"/><stop offset="0.340" stop-color="#0012b2"/><stop offset="0.420" stop-color="#0012b2"/><stop offset="0.500" stop-color="#0011b1"/><stop offset="0.580" stop-color="#0010b0"/><stop offset="0.640" stop-color="#000fae"/><stop offset="0.700" stop-color="#000faf"/><stop offset="0.762" stop-color="#002bd5"/><stop offset="0.763" stop-color="#0036dc"/><stop offset="0.791" stop-color="#0035db"/><stop offset="0.792" stop-color="#0043e4"/><stop offset="0.837" stop-color="#0041e2"/><stop offset="0.838" stop-color="#0065f7"/><stop offset="0.901" stop-color="#0062f6"/><stop offset="0.901" stop-color="#0054ee"/><stop offset="1.000" stop-color="#0050eb"/></linearGradient><linearGradient id="s6" x1="0" y1="0" x2="0" y2="1"><stop offset="0.000" stop-color="#00048e"/><stop offset="0.030" stop-color="#000caa"/><stop offset="0.100" stop-color="#000eac"/><stop offset="0.180" stop-color="#000faf"/><stop offset="0.260" stop-color="#0011b1"/><stop offset="0.340" stop-color="#0012b2"/><stop offset="0.420" stop-color="#0012b2"/><stop offset="0.500" stop-color="#0011b1"/><stop offset="0.580" stop-color="#0010b0"/><stop offset="0.640" stop-color="#000fae"/><stop offset="0.700" stop-color="#001bbe"/><stop offset="0.762" stop-color="#0036dc"/><stop offset="0.763" stop-color="#0044e4"/><stop offset="0.791" stop-color="#0043e4"/><stop offset="0.792" stop-color="#0054ed"/><stop offset="0.837" stop-color="#0052ec"/><stop offset="0.838" stop-color="#0084fb"/><stop offset="0.901" stop-color="#0080fb"/><stop offset="0.901" stop-color="#006afa"/><stop offset="1.000" stop-color="#0065f8"/></linearGradient><linearGradient id="s7" x1="0" y1="0" x2="0" y2="1"><stop offset="0.000" stop-color="#00048e"/><stop offset="0.030" stop-color="#000caa"/><stop offset="0.100" stop-color="#000eac"/><stop offset="0.180" stop-color="#000faf"/><stop offset="0.260" stop-color="#0011b1"/><stop offset="0.340" stop-color="#0012b2"/><stop offset="0.420" stop-color="#0012b2"/><stop offset="0.500" stop-color="#0011b1"/><stop offset="0.580" stop-color="#0010b0"/><stop offset="0.640" stop-color="#0016b8"/><stop offset="0.700" stop-color="#0025cc"/><stop offset="0.762" stop-color="#0042e3"/><stop offset="0.763" stop-color="#0052ed"/><stop offset="0.791" stop-color="#0051ec"/><stop offset="0.792" stop-color="#0065f7"/><stop offset="0.837" stop-color="#0062f6"/><stop offset="0.838" stop-color="#00a4fd"/><stop offset="0.901" stop-color="#00a0fd"/><stop offset="0.901" stop-color="#0086fb"/><stop offset="1.000" stop-color="#0081fb"/></linearGradient><linearGradient id="s8" x1="0" y1="0" x2="0" y2="1"><stop offset="0.000" stop-color="#00048e"/><stop offset="0.030" stop-color="#000caa"/><stop offset="0.100" stop-color="#000eac"/><stop offset="0.180" stop-color="#000faf"/><stop offset="0.260" stop-color="#0011b1"/><stop offset="0.340" stop-color="#0012b2"/><stop offset="0.420" stop-color="#0012b2"/><stop offset="0.500" stop-color="#0011b1"/><stop offset="0.580" stop-color="#0015b7"/><stop offset="0.640" stop-color="#0020c5"/><stop offset="0.700" stop-color="#002ed8"/><stop offset="0.762" stop-color="#004eea"/><stop offset="0.763" stop-color="#0060f5"/><stop offset="0.791" stop-color="#005ff4"/><stop offset="0.792" stop-color="#007afb"/><stop offset="0.837" stop-color="#0077fa"/><stop offset="0.838" stop-color="#05c1f9"/><stop offset="0.901" stop-color="#03befb"/><stop offset="0.901" stop-color="#00a2fd"/><stop offset="1.000" stop-color="#009dfd"/></linearGradient><linearGradient id="s9" x1="0" y1="0" x2="0" y2="1"><stop offset="0.000" stop-color="#00048e"/><stop offset="0.030" stop-color="#000caa"/><stop offset="0.100" stop-color="#000eac"/><stop offset="0.180" stop-color="#000faf"/><stop offset="0.260" stop-color="#0011b1"/><stop offset="0.340" stop-color="#0012b2"/><stop offset="0.420" stop-color="#0012b2"/><stop offset="0.500" stop-color="#0013b4"/><stop offset="0.580" stop-color="#001dc2"/><stop offset="0.640" stop-color="#0028d1"/><stop offset="0.700" stop-color="#003de0"/><stop offset="0.762" stop-color="#005af1"/><stop offset="0.763" stop-color="#0070fa"/><stop offset="0.791" stop-color="#006ffa"/><stop offset="0.792" stop-color="#0090fc"/><stop offset="0.837" stop-color="#008dfc"/><stop offset="0.838" stop-color="#15d7e9"/><stop offset="0.901" stop-color="#13d4eb"/><stop offset="0.901" stop-color="#03bdfb"/><stop offset="1.000" stop-color="#00b9fe"/></linearGradient><linearGradient id="s10" x1="0" y1="0" x2="0" y2="1"><stop offset="0.000" stop-color="#00048e"/><stop offset="0.030" stop-color="#000caa"/><stop offset="0.100" stop-color="#000eac"/><stop offset="0.180" stop-color="#000faf"/><stop offset="0.260" stop-color="#0011b1"/><stop offset="0.340" stop-color="#0012b2"/><stop offset="0.420" stop-color="#0012b3"/><stop offset="0.500" stop-color="#001abd"/><stop offset="0.580" stop-color="#0026cd"/><stop offset="0.640" stop-color="#0035db"/><stop offset="0.700" stop-color="#004be9"/><stop offset="0.762" stop-color="#0066f8"/><stop offset="0.763" stop-color="#0083fb"/><stop offset="0.791" stop-color="#0081fb"/><stop offset="0.792" stop-color="#00a6fd"/><stop offset="0.837" stop-color="#00a3fd"/><stop offset="0.838" stop-color="#25edd9"/><stop offset="0.901" stop-color="#23eadb"/><stop offset="0.901" stop-color="#11d0ed"/><stop offset="1.000" stop-color="#0ecdf0"/></linearGradient><linearGradient id="s11" x1="0" y1="0" x2="0" y2="1"><stop offset="0.000" stop-color="#00048e"/><stop offset="0.030" stop-color="#000caa"/><stop offset="0.100" stop-color="#000eac"/><stop offset="0.180" stop-color="#000faf"/><stop offset="0.260" stop-color="#0011b1"/><stop offset="0.340" stop-color="#0012b2"/><stop offset="0.420" stop-color="#0017ba"/><stop offset="0.500" stop-color="#0022c8"/><stop offset="0.580" stop-color="#0030d8"/><stop offset="0.640" stop-color="#0043e4"/><stop offset="0.700" stop-color="#0059f0"/><stop offset="0.762" stop-color="#0074fa"/><stop offset="0.763" stop-color="#0096fc"/><stop offset="0.791" stop-color="#0094fc"/><stop offset="0.792" stop-color="#02bbfc"/><stop offset="0.837" stop-color="#00b9fe"/><stop offset="0.838" stop-color="#4ef5b2"/><stop offset="0.901" stop-color="#49f4b7"/><stop offset="0.901" stop-color="#1fe4df"/><stop offset="1.000" stop-color="#1ce0e2"/></linearGradient><linearGradient id="s12" x1="0" y1="0" x2="0" y2="1"><stop offset="0.000" stop-color="#00048e"/><stop offset="0.030" stop-color="#000caa"/><stop offset="0.100" stop-color="#000eac"/><stop offset="0.180" stop-color="#000faf"/><stop offset="0.260" stop-color="#0011b1"/><stop offset="0.340" stop-color="#0015b7"/><stop offset="0.420" stop-color="#001ec3"/><stop offset="0.500" stop-color="#0029d2"/><stop offset="0.580" stop-color="#003ee1"/><stop offset="0.640" stop-color="#0052ec"/><stop offset="0.700" stop-color="#0066f8"/><stop offset="0.762" stop-color="#0084fb"/><stop offset="0.763" stop-color="#00a8fd"/><stop offset="0.791" stop-color="#00a7fd"/><stop offset="0.792" stop-color="#0dcbf1"/><stop offset="0.837" stop-color="#0bc9f3"/><stop offset="0.838" stop-color="#7afb88"/><stop offset="0.901" stop-color="#75fa8d"/><stop offset="0.901" stop-color="#37f2c8"/><stop offset="1.000" stop-color="#30f1ce"/></linearGradient><linearGradient id="s13" x1="0" y1="0" x2="0" y2="1"><stop offset="0.000" stop-color="#00048e"/><stop offset="0.030" stop-color="#000caa"/><stop offset="0.100" stop-color="#000eac"/><stop offset="0.180" stop-color="#000faf"/><stop offset="0.260" stop-color="#0013b4"/><stop offset="0.340" stop-color="#001cbf"/><stop offset="0.420" stop-color="#0026cd"/><stop offset="0.500" stop-color="#0035dc"/><stop offset="0.580" stop-color="#004de9"/><stop offset="0.640" stop-color="#005ff4"/><stop offset="0.700" stop-color="#0077fa"/><stop offset="0.762" stop-color="#0094fc"/><stop offset="0.763" stop-color="#01bafd"/><stop offset="0.791" stop-color="#00b9fe"/><stop offset="0.792" stop-color="#18dae6"/><stop offset="0.837" stop-color="#17d8e7"/><stop offset="0.838" stop-color="#a3fc61"/><stop offset="0.901" stop-color="#9efd65"/><stop offset="0.901" stop-color="#5ef7a2"/><stop offset="1.000" stop-color="#57f6a9"/></linearGradient><linearGradient id="s14" x1="0" y1="0" x2="0" y2="1"><stop offset="0.000" stop-color="#00048e"/><stop offset="0.030" stop-color="#000caa"/><stop offset="0.100" stop-color="#000eac"/><stop offset="0.180" stop-color="#0011b1"/><stop offset="0.260" stop-color="#0019bc"/><stop offset="0.340" stop-color="#0023c9"/><stop offset="0.420" stop-color="#002ed8"/><stop offset="0.500" stop-color="#0044e4"/><stop offset="0.580" stop-color="#005bf2"/><stop offset="0.640" stop-color="#006ffa"/><stop offset="0.700" stop-color="#0088fb"/><stop offset="0.762" stop-color="#00a3fd"/><stop offset="0.763" stop-color="#0ac7f4"/><stop offset="0.791" stop-color="#09c6f5"/><stop offset="0.792" stop-color="#23eadb"/><stop offset="0.837" stop-color="#22e8dc"/><stop offset="0.838" stop-color="#c5f641"/><stop offset="0.901" stop-color="#c0f745"/><stop offset="0.901" stop-color="#85fc7d"/><stop offset="1.000" stop-color="#7efb84"/></linearGradient><linearGradient id="s15" x1="0" y1="0" x2="0" y2="1"><stop offset="0.000" stop-color="#00048e"/><stop offset="0.030" stop-color="#000caa"/><stop offset="0.100" stop-color="#000fae"/><stop offset="0.180" stop-color="#0016b8"/><stop offset="0.260" stop-color="#0020c5"/><stop offset="0.340" stop-color="#002ad3"/><stop offset="0.420" stop-color="#003ce0"/><stop offset="0.500" stop-color="#0052ec"/><stop offset="0.580" stop-color="#0069fa"/><stop offset="0.640" stop-color="#0080fb"/><stop offset="0.700" stop-color="#0099fd"/><stop offset="0.762" stop-color="#00b3fe"/><stop offset="0.763" stop-color="#13d4eb"/><stop offset="0.791" stop-color="#13d3eb"/><stop offset="0.792" stop-color="#3bf2c4"/><stop offset="0.837" stop-color="#37f2c8"/><stop offset="0.838" stop-color="#e7f021"/><stop offset="0.901" stop-color="#e3f125"/><stop offset="0.901" stop-color="#a7fb5d"/><stop offset="1.000" stop-color="#a1fc62"/></linearGradient></defs>
<rect x="735.3" y="969.5" width="690.4" height="152.3" fill="#0010a8"/>
<g shape-rendering="crispEdges"><rect x="735.3" y="969.5" width="1.8" height="152.3" fill="url(#s1)"/><rect x="736.8" y="969.5" width="1.8" height="152.3" fill="url(#s1)"/><rect x="738.3" y="969.5" width="1.8" height="152.3" fill="url(#s1)"/><rect x="739.8" y="969.5" width="1.8" height="152.3" fill="url(#s1)"/><rect x="741.3" y="969.5" width="1.8" height="152.3" fill="url(#s1)"/><rect x="742.8" y="969.5" width="1.8" height="152.3" fill="url(#s3)"/><rect x="744.3" y="969.5" width="1.8" height="152.3" fill="url(#s5)"/><rect x="745.8" y="969.5" width="1.8" height="152.3" fill="url(#s0)"/><rect x="747.3" y="969.5" width="1.8" height="152.3" fill="url(#s1)"/><rect x="748.8" y="969.5" width="1.8" height="152.3" fill="url(#s1)"/><rect x="750.3" y="969.5" width="1.8" height="152.3" fill="url(#s0)"/><rect x="751.8" y="969.5" width="1.8" height="152.3" fill="url(#s0)"/><rect x="753.3" y="969.5" width="1.8" height="152.3" fill="url(#s1)"/><rect x="754.8" y="969.5" width="1.8" height="152.3" fill="url(#s4)"/><rect x="756.3" y="969.5" width="1.8" height="152.3" fill="url(#s1)"/><rect x="757.8" y="969.5" width="1.8" height="152.3" fill="url(#s1)"/><rect x="759.3" y="969.5" width="1.8" height="152.3" fill="url(#s1)"/><rect x="760.8" y="969.5" width="1.8" height="152.3" fill="url(#s1)"/><rect x="762.3" y="969.5" width="1.8" height="152.3" fill="url(#s1)"/><rect x="763.8" y="969.5" width="1.8" height="152.3" fill="url(#s1)"/><rect x="765.3" y="969.5" width="1.8" height="152.3" fill="url(#s0)"/><rect x="766.8" y="969.5" width="1.8" height="152.3" fill="url(#s0)"/><rect x="768.3" y="969.5" width="1.8" height="152.3" fill="url(#s1)"/><rect x="769.8" y="969.5" width="1.8" height="152.3" fill="url(#s1)"/><rect x="771.3" y="969.5" width="1.8" height="152.3" fill="url(#s1)"/><rect x="772.8" y="969.5" width="1.8" height="152.3" fill="url(#s3)"/><rect x="774.3" y="969.5" width="1.8" height="152.3" fill="url(#s1)"/><rect x="775.8" y="969.5" width="1.8" height="152.3" fill="url(#s1)"/><rect x="777.3" y="969.5" width="1.8" height="152.3" fill="url(#s4)"/><rect x="778.8" y="969.5" width="1.8" height="152.3" fill="url(#s1)"/><rect x="780.3" y="969.5" width="1.8" height="152.3" fill="url(#s3)"/><rect x="781.8" y="969.5" width="1.8" height="152.3" fill="url(#s1)"/><rect x="783.3" y="969.5" width="1.8" height="152.3" fill="url(#s1)"/><rect x="784.8" y="969.5" width="1.8" height="152.3" fill="url(#s3)"/><rect x="786.3" y="969.5" width="1.8" height="152.3" fill="url(#s0)"/><rect x="787.8" y="969.5" width="1.8" height="152.3" fill="url(#s1)"/><rect x="789.3" y="969.5" width="1.8" height="152.3" fill="url(#s1)"/><rect x="790.8" y="969.5" width="1.8" height="152.3" fill="url(#s1)"/><rect x="792.3" y="969.5" width="1.8" height="152.3" fill="url(#s4)"/><rect x="793.8" y="969.5" width="1.8" height="152.3" fill="url(#s4)"/><rect x="795.3" y="969.5" width="1.8" height="152.3" fill="url(#s1)"/><rect x="796.8" y="969.5" width="1.8" height="152.3" fill="url(#s1)"/><rect x="798.3" y="969.5" width="1.8" height="152.3" fill="url(#s1)"/><rect x="799.8" y="969.5" width="1.8" height="152.3" fill="url(#s1)"/><rect x="801.3" y="969.5" width="1.8" height="152.3" fill="url(#s6)"/><rect x="802.8" y="969.5" width="1.8" height="152.3" fill="url(#s4)"/><rect x="804.3" y="969.5" width="1.8" height="152.3" fill="url(#s1)"/><rect x="805.8" y="969.5" width="1.8" height="152.3" fill="url(#s0)"/><rect x="807.3" y="969.5" width="1.8" height="152.3" fill="url(#s5)"/><rect x="808.8" y="969.5" width="1.8" height="152.3" fill="url(#s5)"/><rect x="810.3" y="969.5" width="1.8" height="152.3" fill="url(#s1)"/><rect x="811.8" y="969.5" width="1.8" height="152.3" fill="url(#s1)"/><rect x="813.3" y="969.5" width="1.8" height="152.3" fill="url(#s1)"/><rect x="814.8" y="969.5" width="1.8" height="152.3" fill="url(#s1)"/><rect x="816.3" y="969.5" width="1.8" height="152.3" fill="url(#s1)"/><rect x="817.8" y="969.5" width="1.8" height="152.3" fill="url(#s1)"/><rect x="819.3" y="969.5" width="1.8" height="152.3" fill="url(#s2)"/><rect x="820.8" y="969.5" width="1.8" height="152.3" fill="url(#s2)"/><rect x="822.3" y="969.5" width="1.8" height="152.3" fill="url(#s1)"/><rect x="823.8" y="969.5" width="1.8" height="152.3" fill="url(#s0)"/><rect x="825.3" y="969.5" width="1.8" height="152.3" fill="url(#s6)"/><rect x="826.8" y="969.5" width="1.8" height="152.3" fill="url(#s5)"/><rect x="828.3" y="969.5" width="1.8" height="152.3" fill="url(#s6)"/><rect x="829.8" y="969.5" width="1.8" height="152.3" fill="url(#s1)"/><rect x="831.3" y="969.5" width="1.8" height="152.3" fill="url(#s5)"/><rect x="832.8" y="969.5" width="1.8" height="152.3" fill="url(#s4)"/><rect x="834.3" y="969.5" width="1.8" height="152.3" fill="url(#s1)"/><rect x="835.8" y="969.5" width="1.8" height="152.3" fill="url(#s1)"/><rect x="837.3" y="969.5" width="1.8" height="152.3" fill="url(#s1)"/><rect x="838.8" y="969.5" width="1.8" height="152.3" fill="url(#s4)"/><rect x="840.3" y="969.5" width="1.8" height="152.3" fill="url(#s0)"/><rect x="841.8" y="969.5" width="1.8" height="152.3" fill="url(#s4)"/><rect x="843.3" y="969.5" width="1.8" height="152.3" fill="url(#s0)"/><rect x="844.8" y="969.5" width="1.8" height="152.3" fill="url(#s2)"/><rect x="846.3" y="969.5" width="1.8" height="152.3" fill="url(#s1)"/><rect x="847.8" y="969.5" width="1.8" height="152.3" fill="url(#s1)"/><rect x="849.3" y="969.5" width="1.8" height="152.3" fill="url(#s3)"/><rect x="850.8" y="969.5" width="1.8" height="152.3" fill="url(#s6)"/><rect x="852.3" y="969.5" width="1.8" height="152.3" fill="url(#s2)"/><rect x="853.8" y="969.5" width="1.8" height="152.3" fill="url(#s5)"/><rect x="855.3" y="969.5" width="1.8" height="152.3" fill="url(#s1)"/><rect x="856.8" y="969.5" width="1.8" height="152.3" fill="url(#s2)"/><rect x="858.3" y="969.5" width="1.8" height="152.3" fill="url(#s5)"/><rect x="859.8" y="969.5" width="1.8" height="152.3" fill="url(#s2)"/><rect x="861.3" y="969.5" width="1.8" height="152.3" fill="url(#s1)"/><rect x="862.8" y="969.5" width="1.8" height="152.3" fill="url(#s2)"/><rect x="864.3" y="969.5" width="1.8" height="152.3" fill="url(#s1)"/><rect x="865.8" y="969.5" width="1.8" height="152.3" fill="url(#s2)"/><rect x="867.3" y="969.5" width="1.8" height="152.3" fill="url(#s1)"/><rect x="868.8" y="969.5" width="1.8" height="152.3" fill="url(#s1)"/><rect x="870.3" y="969.5" width="1.8" height="152.3" fill="url(#s1)"/><rect x="871.8" y="969.5" width="1.8" height="152.3" fill="url(#s1)"/><rect x="873.3" y="969.5" width="1.8" height="152.3" fill="url(#s5)"/><rect x="874.8" y="969.5" width="1.8" height="152.3" fill="url(#s2)"/><rect x="876.3" y="969.5" width="1.8" height="152.3" fill="url(#s1)"/><rect x="877.8" y="969.5" width="1.8" height="152.3" fill="url(#s1)"/><rect x="879.3" y="969.5" width="1.8" height="152.3" fill="url(#s1)"/><rect x="880.8" y="969.5" width="1.8" height="152.3" fill="url(#s6)"/><rect x="882.3" y="969.5" width="1.8" height="152.3" fill="url(#s5)"/><rect x="883.8" y="969.5" width="1.8" height="152.3" fill="url(#s1)"/><rect x="885.3" y="969.5" width="1.8" height="152.3" fill="url(#s1)"/><rect x="886.8" y="969.5" width="1.8" height="152.3" fill="url(#s2)"/><rect x="888.3" y="969.5" width="1.8" height="152.3" fill="url(#s0)"/><rect x="889.8" y="969.5" width="1.8" height="152.3" fill="url(#s1)"/><rect x="891.3" y="969.5" width="1.8" height="152.3" fill="url(#s4)"/><rect x="892.8" y="969.5" width="1.8" height="152.3" fill="url(#s1)"/><rect x="894.3" y="969.5" width="1.8" height="152.3" fill="url(#s2)"/><rect x="895.8" y="969.5" width="1.8" height="152.3" fill="url(#s1)"/><rect x="897.3" y="969.5" width="1.8" height="152.3" fill="url(#s5)"/><rect x="898.8" y="969.5" width="1.8" height="152.3" fill="url(#s2)"/><rect x="900.3" y="969.5" width="1.8" height="152.3" fill="url(#s1)"/><rect x="901.8" y="969.5" width="1.8" height="152.3" fill="url(#s1)"/><rect x="903.3" y="969.5" width="1.8" height="152.3" fill="url(#s6)"/><rect x="904.8" y="969.5" width="1.8" height="152.3" fill="url(#s2)"/><rect x="906.3" y="969.5" width="1.8" height="152.3" fill="url(#s2)"/><rect x="907.8" y="969.5" width="1.8" height="152.3" fill="url(#s5)"/><rect x="909.3" y="969.5" width="1.8" height="152.3" fill="url(#s5)"/><rect x="910.8" y="969.5" width="1.8" height="152.3" fill="url(#s6)"/><rect x="912.3" y="969.5" width="1.8" height="152.3" fill="url(#s1)"/><rect x="913.8" y="969.5" width="1.8" height="152.3" fill="url(#s8)"/><rect x="915.3" y="969.5" width="1.8" height="152.3" fill="url(#s1)"/><rect x="916.8" y="969.5" width="1.8" height="152.3" fill="url(#s4)"/><rect x="918.3" y="969.5" width="1.8" height="152.3" fill="url(#s1)"/><rect x="919.8" y="969.5" width="1.8" height="152.3" fill="url(#s2)"/><rect x="921.3" y="969.5" width="1.8" height="152.3" fill="url(#s8)"/><rect x="922.8" y="969.5" width="1.8" height="152.3" fill="url(#s6)"/><rect x="924.3" y="969.5" width="1.8" height="152.3" fill="url(#s6)"/><rect x="925.8" y="969.5" width="1.8" height="152.3" fill="url(#s8)"/><rect x="927.3" y="969.5" width="1.8" height="152.3" fill="url(#s13)"/><rect x="928.8" y="969.5" width="1.8" height="152.3" fill="url(#s15)"/><rect x="930.3" y="969.5" width="1.8" height="152.3" fill="url(#s12)"/><rect x="931.8" y="969.5" width="1.8" height="152.3" fill="url(#s13)"/><rect x="933.3" y="969.5" width="1.8" height="152.3" fill="url(#s7)"/><rect x="934.8" y="969.5" width="1.8" height="152.3" fill="url(#s7)"/><rect x="936.3" y="969.5" width="1.8" height="152.3" fill="url(#s9)"/><rect x="937.8" y="969.5" width="1.8" height="152.3" fill="url(#s7)"/><rect x="939.3" y="969.5" width="1.8" height="152.3" fill="url(#s7)"/><rect x="940.8" y="969.5" width="1.8" height="152.3" fill="url(#s9)"/><rect x="942.3" y="969.5" width="1.8" height="152.3" fill="url(#s11)"/><rect x="943.8" y="969.5" width="1.8" height="152.3" fill="url(#s12)"/><rect x="945.3" y="969.5" width="1.8" height="152.3" fill="url(#s1)"/><rect x="946.8" y="969.5" width="1.8" height="152.3" fill="url(#s3)"/><rect x="948.3" y="969.5" width="1.8" height="152.3" fill="url(#s12)"/><rect x="949.8" y="969.5" width="1.8" height="152.3" fill="url(#s12)"/><rect x="951.3" y="969.5" width="1.8" height="152.3" fill="url(#s9)"/><rect x="952.8" y="969.5" width="1.8" height="152.3" fill="url(#s2)"/><rect x="954.3" y="969.5" width="1.8" height="152.3" fill="url(#s1)"/><rect x="955.8" y="969.5" width="1.8" height="152.3" fill="url(#s1)"/><rect x="957.3" y="969.5" width="1.8" height="152.3" fill="url(#s2)"/><rect x="958.8" y="969.5" width="1.8" height="152.3" fill="url(#s1)"/><rect x="960.3" y="969.5" width="1.8" height="152.3" fill="url(#s6)"/><rect x="961.8" y="969.5" width="1.8" height="152.3" fill="url(#s2)"/><rect x="963.3" y="969.5" width="1.8" height="152.3" fill="url(#s1)"/><rect x="964.8" y="969.5" width="1.8" height="152.3" fill="url(#s6)"/><rect x="966.3" y="969.5" width="1.8" height="152.3" fill="url(#s1)"/><rect x="967.8" y="969.5" width="1.8" height="152.3" fill="url(#s5)"/><rect x="969.3" y="969.5" width="1.8" height="152.3" fill="url(#s1)"/><rect x="970.8" y="969.5" width="1.8" height="152.3" fill="url(#s0)"/><rect x="972.3" y="969.5" width="1.8" height="152.3" fill="url(#s0)"/><rect x="973.8" y="969.5" width="1.8" height="152.3" fill="url(#s1)"/><rect x="975.3" y="969.5" width="1.8" height="152.3" fill="url(#s6)"/><rect x="976.8" y="969.5" width="1.8" height="152.3" fill="url(#s4)"/><rect x="978.3" y="969.5" width="1.8" height="152.3" fill="url(#s6)"/><rect x="979.8" y="969.5" width="1.8" height="152.3" fill="url(#s1)"/><rect x="981.3" y="969.5" width="1.8" height="152.3" fill="url(#s1)"/><rect x="982.8" y="969.5" width="1.8" height="152.3" fill="url(#s0)"/><rect x="984.3" y="969.5" width="1.8" height="152.3" fill="url(#s5)"/><rect x="985.8" y="969.5" width="1.8" height="152.3" fill="url(#s7)"/><rect x="987.3" y="969.5" width="1.8" height="152.3" fill="url(#s1)"/><rect x="988.8" y="969.5" width="1.8" height="152.3" fill="url(#s2)"/><rect x="990.3" y="969.5" width="1.8" height="152.3" fill="url(#s9)"/><rect x="991.8" y="969.5" width="1.8" height="152.3" fill="url(#s2)"/><rect x="993.3" y="969.5" width="1.8" height="152.3" fill="url(#s9)"/><rect x="994.8" y="969.5" width="1.8" height="152.3" fill="url(#s2)"/><rect x="996.3" y="969.5" width="1.8" height="152.3" fill="url(#s1)"/><rect x="997.8" y="969.5" width="1.8" height="152.3" fill="url(#s1)"/><rect x="999.3" y="969.5" width="1.8" height="152.3" fill="url(#s0)"/><rect x="1000.8" y="969.5" width="1.8" height="152.3" fill="url(#s1)"/><rect x="1002.3" y="969.5" width="1.8" height="152.3" fill="url(#s8)"/><rect x="1003.8" y="969.5" width="1.8" height="152.3" fill="url(#s6)"/><rect x="1005.3" y="969.5" width="1.8" height="152.3" fill="url(#s1)"/><rect x="1006.8" y="969.5" width="1.8" height="152.3" fill="url(#s1)"/><rect x="1008.3" y="969.5" width="1.8" height="152.3" fill="url(#s2)"/><rect x="1009.8" y="969.5" width="1.8" height="152.3" fill="url(#s6)"/><rect x="1011.3" y="969.5" width="1.8" height="152.3" fill="url(#s6)"/><rect x="1012.8" y="969.5" width="1.8" height="152.3" fill="url(#s2)"/><rect x="1014.3" y="969.5" width="1.8" height="152.3" fill="url(#s6)"/><rect x="1015.8" y="969.5" width="1.8" height="152.3" fill="url(#s8)"/><rect x="1017.3" y="969.5" width="1.8" height="152.3" fill="url(#s1)"/><rect x="1018.8" y="969.5" width="1.8" height="152.3" fill="url(#s1)"/><rect x="1020.3" y="969.5" width="1.8" height="152.3" fill="url(#s7)"/><rect x="1021.8" y="969.5" width="1.8" height="152.3" fill="url(#s8)"/><rect x="1023.3" y="969.5" width="1.8" height="152.3" fill="url(#s10)"/><rect x="1024.8" y="969.5" width="1.8" height="152.3" fill="url(#s11)"/><rect x="1026.3" y="969.5" width="1.8" height="152.3" fill="url(#s12)"/><rect x="1027.8" y="969.5" width="1.8" height="152.3" fill="url(#s13)"/><rect x="1029.3" y="969.5" width="1.8" height="152.3" fill="url(#s9)"/><rect x="1030.8" y="969.5" width="1.8" height="152.3" fill="url(#s9)"/><rect x="1032.3" y="969.5" width="1.8" height="152.3" fill="url(#s7)"/><rect x="1033.8" y="969.5" width="1.8" height="152.3" fill="url(#s10)"/><rect x="1035.3" y="969.5" width="1.8" height="152.3" fill="url(#s9)"/><rect x="1036.8" y="969.5" width="1.8" height="152.3" fill="url(#s2)"/><rect x="1038.3" y="969.5" width="1.8" height="152.3" fill="url(#s1)"/><rect x="1039.8" y="969.5" width="1.8" height="152.3" fill="url(#s3)"/><rect x="1041.3" y="969.5" width="1.8" height="152.3" fill="url(#s2)"/><rect x="1042.8" y="969.5" width="1.8" height="152.3" fill="url(#s13)"/><rect x="1044.3" y="969.5" width="1.8" height="152.3" fill="url(#s14)"/><rect x="1045.8" y="969.5" width="1.8" height="152.3" fill="url(#s1)"/><rect x="1047.3" y="969.5" width="1.8" height="152.3" fill="url(#s11)"/><rect x="1048.8" y="969.5" width="1.8" height="152.3" fill="url(#s7)"/><rect x="1050.3" y="969.5" width="1.8" height="152.3" fill="url(#s8)"/><rect x="1051.8" y="969.5" width="1.8" height="152.3" fill="url(#s6)"/><rect x="1053.3" y="969.5" width="1.8" height="152.3" fill="url(#s9)"/><rect x="1054.8" y="969.5" width="1.8" height="152.3" fill="url(#s7)"/><rect x="1056.3" y="969.5" width="1.8" height="152.3" fill="url(#s11)"/><rect x="1057.8" y="969.5" width="1.8" height="152.3" fill="url(#s1)"/><rect x="1059.3" y="969.5" width="1.8" height="152.3" fill="url(#s11)"/><rect x="1060.8" y="969.5" width="1.8" height="152.3" fill="url(#s11)"/><rect x="1062.3" y="969.5" width="1.8" height="152.3" fill="url(#s9)"/><rect x="1063.8" y="969.5" width="1.8" height="152.3" fill="url(#s13)"/><rect x="1065.3" y="969.5" width="1.8" height="152.3" fill="url(#s12)"/><rect x="1066.8" y="969.5" width="1.8" height="152.3" fill="url(#s7)"/><rect x="1068.3" y="969.5" width="1.8" height="152.3" fill="url(#s7)"/><rect x="1069.8" y="969.5" width="1.8" height="152.3" fill="url(#s12)"/><rect x="1071.3" y="969.5" width="1.8" height="152.3" fill="url(#s1)"/><rect x="1072.8" y="969.5" width="1.8" height="152.3" fill="url(#s11)"/><rect x="1074.3" y="969.5" width="1.8" height="152.3" fill="url(#s10)"/><rect x="1075.8" y="969.5" width="1.8" height="152.3" fill="url(#s8)"/><rect x="1077.3" y="969.5" width="1.8" height="152.3" fill="url(#s8)"/><rect x="1078.8" y="969.5" width="1.8" height="152.3" fill="url(#s6)"/><rect x="1080.3" y="969.5" width="1.8" height="152.3" fill="url(#s11)"/><rect x="1081.8" y="969.5" width="1.8" height="152.3" fill="url(#s9)"/><rect x="1083.3" y="969.5" width="1.8" height="152.3" fill="url(#s8)"/><rect x="1084.8" y="969.5" width="1.8" height="152.3" fill="url(#s7)"/><rect x="1086.3" y="969.5" width="1.8" height="152.3" fill="url(#s12)"/><rect x="1087.8" y="969.5" width="1.8" height="152.3" fill="url(#s3)"/><rect x="1089.3" y="969.5" width="1.8" height="152.3" fill="url(#s3)"/><rect x="1090.8" y="969.5" width="1.8" height="152.3" fill="url(#s2)"/><rect x="1092.3" y="969.5" width="1.8" height="152.3" fill="url(#s8)"/><rect x="1093.8" y="969.5" width="1.8" height="152.3" fill="url(#s2)"/><rect x="1095.3" y="969.5" width="1.8" height="152.3" fill="url(#s11)"/><rect x="1096.8" y="969.5" width="1.8" height="152.3" fill="url(#s10)"/><rect x="1098.3" y="969.5" width="1.8" height="152.3" fill="url(#s12)"/><rect x="1099.8" y="969.5" width="1.8" height="152.3" fill="url(#s3)"/><rect x="1101.3" y="969.5" width="1.8" height="152.3" fill="url(#s3)"/><rect x="1102.8" y="969.5" width="1.8" height="152.3" fill="url(#s2)"/><rect x="1104.3" y="969.5" width="1.8" height="152.3" fill="url(#s1)"/><rect x="1105.8" y="969.5" width="1.8" height="152.3" fill="url(#s8)"/><rect x="1107.3" y="969.5" width="1.8" height="152.3" fill="url(#s7)"/><rect x="1108.8" y="969.5" width="1.8" height="152.3" fill="url(#s8)"/><rect x="1110.3" y="969.5" width="1.8" height="152.3" fill="url(#s10)"/><rect x="1111.8" y="969.5" width="1.8" height="152.3" fill="url(#s7)"/><rect x="1113.3" y="969.5" width="1.8" height="152.3" fill="url(#s9)"/><rect x="1114.8" y="969.5" width="1.8" height="152.3" fill="url(#s8)"/><rect x="1116.3" y="969.5" width="1.8" height="152.3" fill="url(#s2)"/><rect x="1117.8" y="969.5" width="1.8" height="152.3" fill="url(#s3)"/><rect x="1119.3" y="969.5" width="1.8" height="152.3" fill="url(#s1)"/><rect x="1120.8" y="969.5" width="1.8" height="152.3" fill="url(#s10)"/><rect x="1122.3" y="969.5" width="1.8" height="152.3" fill="url(#s8)"/><rect x="1123.8" y="969.5" width="1.8" height="152.3" fill="url(#s6)"/><rect x="1125.3" y="969.5" width="1.8" height="152.3" fill="url(#s6)"/><rect x="1126.8" y="969.5" width="1.8" height="152.3" fill="url(#s10)"/><rect x="1128.3" y="969.5" width="1.8" height="152.3" fill="url(#s7)"/><rect x="1129.8" y="969.5" width="1.8" height="152.3" fill="url(#s2)"/><rect x="1131.3" y="969.5" width="1.8" height="152.3" fill="url(#s2)"/><rect x="1132.8" y="969.5" width="1.8" height="152.3" fill="url(#s1)"/><rect x="1134.3" y="969.5" width="1.8" height="152.3" fill="url(#s9)"/><rect x="1135.8" y="969.5" width="1.8" height="152.3" fill="url(#s9)"/><rect x="1137.3" y="969.5" width="1.8" height="152.3" fill="url(#s7)"/><rect x="1138.8" y="969.5" width="1.8" height="152.3" fill="url(#s7)"/><rect x="1140.3" y="969.5" width="1.8" height="152.3" fill="url(#s5)"/><rect x="1141.8" y="969.5" width="1.8" height="152.3" fill="url(#s1)"/><rect x="1143.3" y="969.5" width="1.8" height="152.3" fill="url(#s8)"/><rect x="1144.8" y="969.5" width="1.8" height="152.3" fill="url(#s6)"/><rect x="1146.3" y="969.5" width="1.8" height="152.3" fill="url(#s8)"/><rect x="1147.8" y="969.5" width="1.8" height="152.3" fill="url(#s8)"/><rect x="1149.3" y="969.5" width="1.8" height="152.3" fill="url(#s5)"/><rect x="1150.8" y="969.5" width="1.8" height="152.3" fill="url(#s5)"/><rect x="1152.3" y="969.5" width="1.8" height="152.3" fill="url(#s9)"/><rect x="1153.8" y="969.5" width="1.8" height="152.3" fill="url(#s9)"/><rect x="1155.3" y="969.5" width="1.8" height="152.3" fill="url(#s5)"/><rect x="1156.8" y="969.5" width="1.8" height="152.3" fill="url(#s2)"/><rect x="1158.3" y="969.5" width="1.8" height="152.3" fill="url(#s10)"/><rect x="1159.8" y="969.5" width="1.8" height="152.3" fill="url(#s7)"/><rect x="1161.3" y="969.5" width="1.8" height="152.3" fill="url(#s1)"/><rect x="1162.8" y="969.5" width="1.8" height="152.3" fill="url(#s10)"/><rect x="1164.3" y="969.5" width="1.8" height="152.3" fill="url(#s7)"/><rect x="1165.8" y="969.5" width="1.8" height="152.3" fill="url(#s2)"/><rect x="1167.3" y="969.5" width="1.8" height="152.3" fill="url(#s5)"/><rect x="1168.8" y="969.5" width="1.8" height="152.3" fill="url(#s7)"/><rect x="1170.3" y="969.5" width="1.8" height="152.3" fill="url(#s5)"/><rect x="1171.8" y="969.5" width="1.8" height="152.3" fill="url(#s5)"/><rect x="1173.3" y="969.5" width="1.8" height="152.3" fill="url(#s8)"/><rect x="1174.8" y="969.5" width="1.8" height="152.3" fill="url(#s6)"/><rect x="1176.3" y="969.5" width="1.8" height="152.3" fill="url(#s7)"/><rect x="1177.8" y="969.5" width="1.8" height="152.3" fill="url(#s7)"/><rect x="1179.3" y="969.5" width="1.8" height="152.3" fill="url(#s2)"/><rect x="1180.8" y="969.5" width="1.8" height="152.3" fill="url(#s1)"/><rect x="1182.3" y="969.5" width="1.8" height="152.3" fill="url(#s9)"/><rect x="1183.8" y="969.5" width="1.8" height="152.3" fill="url(#s8)"/><rect x="1185.3" y="969.5" width="1.8" height="152.3" fill="url(#s6)"/><rect x="1186.8" y="969.5" width="1.8" height="152.3" fill="url(#s7)"/><rect x="1188.3" y="969.5" width="1.8" height="152.3" fill="url(#s8)"/><rect x="1189.8" y="969.5" width="1.8" height="152.3" fill="url(#s6)"/><rect x="1191.3" y="969.5" width="1.8" height="152.3" fill="url(#s9)"/><rect x="1192.8" y="969.5" width="1.8" height="152.3" fill="url(#s2)"/><rect x="1194.3" y="969.5" width="1.8" height="152.3" fill="url(#s5)"/><rect x="1195.8" y="969.5" width="1.8" height="152.3" fill="url(#s7)"/><rect x="1197.3" y="969.5" width="1.8" height="152.3" fill="url(#s5)"/><rect x="1198.8" y="969.5" width="1.8" height="152.3" fill="url(#s5)"/><rect x="1200.3" y="969.5" width="1.8" height="152.3" fill="url(#s8)"/><rect x="1201.8" y="969.5" width="1.8" height="152.3" fill="url(#s8)"/><rect x="1203.3" y="969.5" width="1.8" height="152.3" fill="url(#s7)"/><rect x="1204.8" y="969.5" width="1.8" height="152.3" fill="url(#s6)"/><rect x="1206.3" y="969.5" width="1.8" height="152.3" fill="url(#s9)"/><rect x="1207.8" y="969.5" width="1.8" height="152.3" fill="url(#s5)"/><rect x="1209.3" y="969.5" width="1.8" height="152.3" fill="url(#s8)"/><rect x="1210.8" y="969.5" width="1.8" height="152.3" fill="url(#s6)"/><rect x="1212.3" y="969.5" width="1.8" height="152.3" fill="url(#s6)"/><rect x="1213.8" y="969.5" width="1.8" height="152.3" fill="url(#s7)"/><rect x="1215.3" y="969.5" width="1.8" height="152.3" fill="url(#s10)"/><rect x="1216.8" y="969.5" width="1.8" height="152.3" fill="url(#s7)"/><rect x="1218.3" y="969.5" width="1.8" height="152.3" fill="url(#s9)"/><rect x="1219.8" y="969.5" width="1.8" height="152.3" fill="url(#s7)"/><rect x="1221.3" y="969.5" width="1.8" height="152.3" fill="url(#s9)"/><rect x="1222.8" y="969.5" width="1.8" height="152.3" fill="url(#s5)"/><rect x="1224.3" y="969.5" width="1.8" height="152.3" fill="url(#s7)"/><rect x="1225.8" y="969.5" width="1.8" height="152.3" fill="url(#s6)"/><rect x="1227.3" y="969.5" width="1.8" height="152.3" fill="url(#s5)"/><rect x="1228.8" y="969.5" width="1.8" height="152.3" fill="url(#s8)"/><rect x="1230.3" y="969.5" width="1.8" height="152.3" fill="url(#s6)"/><rect x="1231.8" y="969.5" width="1.8" height="152.3" fill="url(#s8)"/><rect x="1233.3" y="969.5" width="1.8" height="152.3" fill="url(#s6)"/><rect x="1234.8" y="969.5" width="1.8" height="152.3" fill="url(#s9)"/><rect x="1236.3" y="969.5" width="1.8" height="152.3" fill="url(#s5)"/><rect x="1237.8" y="969.5" width="1.8" height="152.3" fill="url(#s8)"/><rect x="1239.3" y="969.5" width="1.8" height="152.3" fill="url(#s2)"/><rect x="1240.8" y="969.5" width="1.8" height="152.3" fill="url(#s1)"/><rect x="1242.3" y="969.5" width="1.8" height="152.3" fill="url(#s1)"/><rect x="1243.8" y="969.5" width="1.8" height="152.3" fill="url(#s7)"/><rect x="1245.3" y="969.5" width="1.8" height="152.3" fill="url(#s2)"/><rect x="1246.8" y="969.5" width="1.8" height="152.3" fill="url(#s7)"/><rect x="1248.3" y="969.5" width="1.8" height="152.3" fill="url(#s7)"/><rect x="1249.8" y="969.5" width="1.8" height="152.3" fill="url(#s7)"/><rect x="1251.3" y="969.5" width="1.8" height="152.3" fill="url(#s8)"/><rect x="1252.8" y="969.5" width="1.8" height="152.3" fill="url(#s8)"/><rect x="1254.3" y="969.5" width="1.8" height="152.3" fill="url(#s2)"/><rect x="1255.8" y="969.5" width="1.8" height="152.3" fill="url(#s9)"/><rect x="1257.3" y="969.5" width="1.8" height="152.3" fill="url(#s1)"/><rect x="1258.8" y="969.5" width="1.8" height="152.3" fill="url(#s8)"/><rect x="1260.3" y="969.5" width="1.8" height="152.3" fill="url(#s8)"/><rect x="1261.8" y="969.5" width="1.8" height="152.3" fill="url(#s2)"/><rect x="1263.3" y="969.5" width="1.8" height="152.3" fill="url(#s1)"/><rect x="1264.8" y="969.5" width="1.8" height="152.3" fill="url(#s9)"/><rect x="1266.3" y="969.5" width="1.8" height="152.3" fill="url(#s5)"/><rect x="1267.8" y="969.5" width="1.8" height="152.3" fill="url(#s10)"/><rect x="1269.3" y="969.5" width="1.8" height="152.3" fill="url(#s8)"/><rect x="1270.8" y="969.5" width="1.8" height="152.3" fill="url(#s9)"/><rect x="1272.3" y="969.5" width="1.8" height="152.3" fill="url(#s6)"/><rect x="1273.8" y="969.5" width="1.8" height="152.3" fill="url(#s9)"/><rect x="1275.3" y="969.5" width="1.8" height="152.3" fill="url(#s9)"/><rect x="1276.8" y="969.5" width="1.8" height="152.3" fill="url(#s6)"/><rect x="1278.3" y="969.5" width="1.8" height="152.3" fill="url(#s2)"/><rect x="1279.8" y="969.5" width="1.8" height="152.3" fill="url(#s7)"/><rect x="1281.3" y="969.5" width="1.8" height="152.3" fill="url(#s8)"/><rect x="1282.8" y="969.5" width="1.8" height="152.3" fill="url(#s1)"/><rect x="1284.3" y="969.5" width="1.8" height="152.3" fill="url(#s2)"/><rect x="1285.8" y="969.5" width="1.8" height="152.3" fill="url(#s2)"/><rect x="1287.3" y="969.5" width="1.8" height="152.3" fill="url(#s2)"/><rect x="1288.8" y="969.5" width="1.8" height="152.3" fill="url(#s2)"/><rect x="1290.3" y="969.5" width="1.8" height="152.3" fill="url(#s8)"/><rect x="1291.8" y="969.5" width="1.8" height="152.3" fill="url(#s1)"/><rect x="1293.3" y="969.5" width="1.8" height="152.3" fill="url(#s5)"/><rect x="1294.8" y="969.5" width="1.8" height="152.3" fill="url(#s9)"/><rect x="1296.3" y="969.5" width="1.8" height="152.3" fill="url(#s5)"/><rect x="1297.8" y="969.5" width="1.8" height="152.3" fill="url(#s7)"/><rect x="1299.3" y="969.5" width="1.8" height="152.3" fill="url(#s9)"/><rect x="1300.8" y="969.5" width="1.8" height="152.3" fill="url(#s6)"/><rect x="1302.3" y="969.5" width="1.8" height="152.3" fill="url(#s8)"/><rect x="1303.8" y="969.5" width="1.8" height="152.3" fill="url(#s5)"/><rect x="1305.3" y="969.5" width="1.8" height="152.3" fill="url(#s7)"/><rect x="1306.8" y="969.5" width="1.8" height="152.3" fill="url(#s9)"/><rect x="1308.3" y="969.5" width="1.8" height="152.3" fill="url(#s5)"/><rect x="1309.8" y="969.5" width="1.8" height="152.3" fill="url(#s5)"/><rect x="1311.3" y="969.5" width="1.8" height="152.3" fill="url(#s8)"/><rect x="1312.8" y="969.5" width="1.8" height="152.3" fill="url(#s5)"/><rect x="1314.3" y="969.5" width="1.8" height="152.3" fill="url(#s6)"/><rect x="1315.8" y="969.5" width="1.8" height="152.3" fill="url(#s8)"/><rect x="1317.3" y="969.5" width="1.8" height="152.3" fill="url(#s7)"/><rect x="1318.8" y="969.5" width="1.8" height="152.3" fill="url(#s1)"/><rect x="1320.3" y="969.5" width="1.8" height="152.3" fill="url(#s8)"/><rect x="1321.8" y="969.5" width="1.8" height="152.3" fill="url(#s1)"/><rect x="1323.3" y="969.5" width="1.8" height="152.3" fill="url(#s9)"/><rect x="1324.8" y="969.5" width="1.8" height="152.3" fill="url(#s5)"/><rect x="1326.3" y="969.5" width="1.8" height="152.3" fill="url(#s8)"/><rect x="1327.8" y="969.5" width="1.8" height="152.3" fill="url(#s1)"/><rect x="1329.3" y="969.5" width="1.8" height="152.3" fill="url(#s6)"/><rect x="1330.8" y="969.5" width="1.8" height="152.3" fill="url(#s8)"/><rect x="1332.3" y="969.5" width="1.8" height="152.3" fill="url(#s1)"/><rect x="1333.8" y="969.5" width="1.8" height="152.3" fill="url(#s5)"/><rect x="1335.3" y="969.5" width="1.8" height="152.3" fill="url(#s6)"/><rect x="1336.8" y="969.5" width="1.8" height="152.3" fill="url(#s1)"/><rect x="1338.3" y="969.5" width="1.8" height="152.3" fill="url(#s4)"/><rect x="1339.8" y="969.5" width="1.8" height="152.3" fill="url(#s4)"/><rect x="1341.3" y="969.5" width="1.8" height="152.3" fill="url(#s1)"/><rect x="1342.8" y="969.5" width="1.8" height="152.3" fill="url(#s2)"/><rect x="1344.3" y="969.5" width="1.8" height="152.3" fill="url(#s5)"/><rect x="1345.8" y="969.5" width="1.8" height="152.3" fill="url(#s5)"/><rect x="1347.3" y="969.5" width="1.8" height="152.3" fill="url(#s6)"/><rect x="1348.8" y="969.5" width="1.8" height="152.3" fill="url(#s1)"/><rect x="1350.3" y="969.5" width="1.8" height="152.3" fill="url(#s4)"/><rect x="1351.8" y="969.5" width="1.8" height="152.3" fill="url(#s0)"/><rect x="1353.3" y="969.5" width="1.8" height="152.3" fill="url(#s1)"/><rect x="1354.8" y="969.5" width="1.8" height="152.3" fill="url(#s1)"/><rect x="1356.3" y="969.5" width="1.8" height="152.3" fill="url(#s1)"/><rect x="1357.8" y="969.5" width="1.8" height="152.3" fill="url(#s1)"/><rect x="1359.3" y="969.5" width="1.8" height="152.3" fill="url(#s0)"/><rect x="1360.8" y="969.5" width="1.8" height="152.3" fill="url(#s1)"/><rect x="1362.3" y="969.5" width="1.8" height="152.3" fill="url(#s1)"/><rect x="1363.8" y="969.5" width="1.8" height="152.3" fill="url(#s7)"/><rect x="1365.3" y="969.5" width="1.8" height="152.3" fill="url(#s8)"/><rect x="1366.8" y="969.5" width="1.8" height="152.3" fill="url(#s10)"/><rect x="1368.3" y="969.5" width="1.8" height="152.3" fill="url(#s13)"/><rect x="1369.8" y="969.5" width="1.8" height="152.3" fill="url(#s14)"/><rect x="1371.3" y="969.5" width="1.8" height="152.3" fill="url(#s10)"/><rect x="1372.8" y="969.5" width="1.8" height="152.3" fill="url(#s15)"/><rect x="1374.3" y="969.5" width="1.8" height="152.3" fill="url(#s2)"/><rect x="1375.8" y="969.5" width="1.8" height="152.3" fill="url(#s4)"/><rect x="1377.3" y="969.5" width="1.8" height="152.3" fill="url(#s1)"/><rect x="1378.8" y="969.5" width="1.8" height="152.3" fill="url(#s1)"/><rect x="1380.3" y="969.5" width="1.8" height="152.3" fill="url(#s5)"/><rect x="1381.8" y="969.5" width="1.8" height="152.3" fill="url(#s1)"/><rect x="1383.3" y="969.5" width="1.8" height="152.3" fill="url(#s1)"/><rect x="1384.8" y="969.5" width="1.8" height="152.3" fill="url(#s1)"/><rect x="1386.3" y="969.5" width="1.8" height="152.3" fill="url(#s1)"/><rect x="1387.8" y="969.5" width="1.8" height="152.3" fill="url(#s1)"/><rect x="1389.3" y="969.5" width="1.8" height="152.3" fill="url(#s0)"/><rect x="1390.8" y="969.5" width="1.8" height="152.3" fill="url(#s1)"/><rect x="1392.3" y="969.5" width="1.8" height="152.3" fill="url(#s1)"/><rect x="1393.8" y="969.5" width="1.8" height="152.3" fill="url(#s9)"/><rect x="1395.3" y="969.5" width="1.8" height="152.3" fill="url(#s13)"/><rect x="1396.8" y="969.5" width="1.8" height="152.3" fill="url(#s7)"/><rect x="1398.3" y="969.5" width="1.8" height="152.3" fill="url(#s1)"/><rect x="1399.8" y="969.5" width="1.8" height="152.3" fill="url(#s4)"/><rect x="1401.3" y="969.5" width="1.8" height="152.3" fill="url(#s1)"/><rect x="1402.8" y="969.5" width="1.8" height="152.3" fill="url(#s3)"/><rect x="1404.3" y="969.5" width="1.8" height="152.3" fill="url(#s3)"/><rect x="1405.8" y="969.5" width="1.8" height="152.3" fill="url(#s0)"/><rect x="1407.3" y="969.5" width="1.8" height="152.3" fill="url(#s1)"/><rect x="1408.8" y="969.5" width="1.8" height="152.3" fill="url(#s1)"/><rect x="1410.3" y="969.5" width="1.8" height="152.3" fill="url(#s1)"/><rect x="1411.8" y="969.5" width="1.8" height="152.3" fill="url(#s1)"/><rect x="1413.3" y="969.5" width="1.8" height="152.3" fill="url(#s0)"/><rect x="1414.8" y="969.5" width="1.8" height="152.3" fill="url(#s1)"/><rect x="1416.3" y="969.5" width="1.8" height="152.3" fill="url(#s1)"/><rect x="1417.8" y="969.5" width="1.8" height="152.3" fill="url(#s1)"/><rect x="1419.3" y="969.5" width="1.8" height="152.3" fill="url(#s3)"/><rect x="1420.8" y="969.5" width="1.8" height="152.3" fill="url(#s1)"/><rect x="1422.3" y="969.5" width="1.8" height="152.3" fill="url(#s4)"/><rect x="1423.8" y="969.5" width="1.8" height="152.3" fill="url(#s1)"/><rect x="1425.3" y="969.5" width="0.7" height="152.3" fill="url(#s1)"/></g>
<defs><filter id="nz" x="0" y="0" width="100%" height="100%" color-interpolation-filters="sRGB"><feTurbulence type="fractalNoise" baseFrequency="0.55 0.4" numOctaves="2" seed="4" result="n"/><feColorMatrix in="n" type="matrix" values="0 0 0 0 0.05  0 0 0 0 0.32  0 0 0 0 1  5 0 0 0 -3.25"/></filter></defs>
<rect x="735.3" y="972.5" width="690.4" height="149.3" filter="url(#nz)" opacity="0.7"/>
<line x1="755" y1="998.5" x2="865" y2="998.5" stroke="#3aa0ff" stroke-width="1.2" stroke-dasharray="2 1.5" opacity="0.35"/>
<line x1="737" y1="1009.5" x2="925" y2="1009.5" stroke="#3aa0ff" stroke-width="1.2" stroke-dasharray="2 1.5" opacity="0.2"/>
<line x1="840" y1="1025.6" x2="925" y2="1025.6" stroke="#3aa0ff" stroke-width="1.2" stroke-dasharray="2 1.5" opacity="0.18"/>
<line x1="737" y1="1039.6" x2="925" y2="1039.6" stroke="#3aa0ff" stroke-width="1.2" stroke-dasharray="2 1.5" opacity="0.25"/>
<line x1="1060" y1="999.4" x2="1425" y2="999.4" stroke="#3aa0ff" stroke-width="1.2" stroke-dasharray="2 1.5" opacity="0.15"/>
<line x1="1080" y1="1041" x2="1420" y2="1041" stroke="#3aa0ff" stroke-width="1.2" stroke-dasharray="2 1.5" opacity="0.22"/>
<line x1="1140" y1="986" x2="1180" y2="986" stroke="#3aa0ff" stroke-width="1.2" stroke-dasharray="2 1.5" opacity="0.25"/>
<line x1="925" y1="981" x2="935" y2="981" stroke="#3aa0ff" stroke-width="1.2" stroke-dasharray="2 1.5" opacity="0.3"/>
<line x1="925" y1="989.5" x2="960" y2="989.5" stroke="#3aa0ff" stroke-width="1.2" stroke-dasharray="2 1.5" opacity="0.3"/>
<rect x="735.3" y="969.5" width="690.4" height="2" fill="#000070" opacity="0.6"/>
<rect x="735" y="1120.6" width="131" height="1.2" fill="#fff"/>
<g shape-rendering="crispEdges">
<path d="M260,975.5h8M1810,975.5h-8M260,980.5h8M1810,980.5h-8M260,984.5h8M1810,984.5h-8M260,987.5h8M1810,987.5h-8M260,990.5h8M1810,990.5h-8M260,993.5h8M1810,993.5h-8M260,1010.5h8M1810,1010.5h-8M260,1019.5h8M1810,1019.5h-8M260,1026.5h8M1810,1026.5h-8M260,1031.5h8M1810,1031.5h-8M260,1035.5h8M1810,1035.5h-8M260,1038.5h8M1810,1038.5h-8M260,1041.5h8M1810,1041.5h-8M260,1044.5h8M1810,1044.5h-8M260,1061.5h8M1810,1061.5h-8M260,1070.5h8M1810,1070.5h-8M260,1077.5h8M1810,1077.5h-8M260,1082.5h8M1810,1082.5h-8M260,1086.5h8M1810,1086.5h-8M260,1089.5h8M1810,1089.5h-8M260,1092.5h8M1810,1092.5h-8M260,1095.5h8M1810,1095.5h-8M260,1112.5h8M1810,1112.5h-8M260,995.5h16M1810,995.5h-16M260,1046.5h16M1810,1046.5h-16M260,1097.5h16M1810,1097.5h-16M440.5,969v16M440.5,1122v-16M620.5,969v16M620.5,1122v-16M800.5,969v16M800.5,1122v-16M980.5,969v16M980.5,1122v-16M1162.5,969v16M1162.5,1122v-16M1343.5,969v16M1343.5,1122v-16M1629.5,969v16M1629.5,1122v-16" stroke="#000" stroke-width="1" fill="none"/>
<rect x="260.5" y="969.5" width="1550" height="153" fill="none" stroke="#000" stroke-width="1"/>
</g>
<text x="235.3" y="1004.5" font-family="Liberation Sans, sans-serif" font-size="27.78" text-anchor="end">10</text>
<text x="236.3" y="987.5" font-family="Liberation Sans, sans-serif" font-size="17.3">-1</text>
<text x="235.3" y="1055.5" font-family="Liberation Sans, sans-serif" font-size="27.78" text-anchor="end">10</text>
<text x="236.3" y="1038.5" font-family="Liberation Sans, sans-serif" font-size="17.3">0</text>
<text x="235.3" y="1106.5" font-family="Liberation Sans, sans-serif" font-size="27.78" text-anchor="end">10</text>
<text x="236.3" y="1089.5" font-family="Liberation Sans, sans-serif" font-size="17.3">1</text>
<g transform="translate(185,1047) rotate(-90)"><text font-family="Liberation Sans, sans-serif" font-size="27.78" text-anchor="middle">Wavelength (km)</text></g>
<defs><clipPath id="cp3"><rect x="260.5" y="1133.5" width="1550" height="222"/></clipPath></defs>
<g shape-rendering="crispEdges">
<path d="M260,1179.5H1810M260,1244.5H1810M260,1309.5H1810M440.5,1134V1355M620.5,1134V1355M800.5,1134V1355M980.5,1134V1355M1162.5,1134V1355M1343.5,1134V1355M1629.5,1134V1355M1809.5,1134V1355" stroke="#000" stroke-width="1" stroke-dasharray="1 4" fill="none"/>
</g>
<g clip-path="url(#cp3)">
<path d="M302.4,1133.8 L309.1,1136.8 L314.5,1140.1 L319.3,1144.9 L317.2,1148.9 L311.8,1154.4 L309.8,1161.1 L305.1,1164.5 L300.3,1167.2 L298.3,1169.9 L288.8,1172.6 L285.4,1176.7 L276.7,1180.1 L269.9,1183.5 L265.8,1185.5 L260.4,1186.8M282.1,1136.1 L284.1,1134.7 L294.9,1134.3 L295.6,1136.1 L287.5,1136.8 L284.1,1138.1 ZM260.4,1198.3 L267.2,1196.6 L273.9,1195.0 L280.0,1192.5 L282.7,1193.6 L282.1,1199.0 L279.4,1205.8 L275.3,1212.5 L272.6,1219.3 L267.2,1226.1 L260.4,1232.2M260.4,1310.6 L264.5,1307.3 L268.5,1301.9 L271.9,1296.7 L274.6,1296.7 L276.7,1302.5 L279.1,1307.3 L279.4,1312.0 L276.7,1314.7 L273.9,1324.9 L269.9,1338.4 L266.5,1347.9 L263.8,1355.3M348.4,1133.8 L355.1,1139.5 L359.2,1143.5 L363.3,1143.5 L359.2,1146.9 L363.3,1151.7 L368.7,1153.0 L372.7,1146.2 L374.1,1153.0 L374.1,1161.1 L376.8,1170.6 L380.8,1180.1 L383.6,1188.2 L387.6,1197.7 L390.3,1205.8 L393.0,1208.5 L395.7,1208.5 L399.8,1203.7 L404.5,1199.7 L403.8,1195.0 L407.2,1189.5 L405.9,1182.8 L406.6,1176.0 L414.7,1171.9 L422.8,1163.8 L430.9,1157.1 L436.3,1151.7 L440.4,1148.3 L447.2,1148.3 L454.6,1143.5 L458.0,1153.0 L463.4,1157.1 L466.8,1162.5 L467.4,1170.6 L466.8,1173.3 L471.5,1175.3 L476.9,1170.6 L479.6,1170.6 L482.3,1177.4 L485.0,1185.5 L486.4,1192.2 L485.0,1200.4 L483.7,1206.5 L487.7,1211.2 L491.8,1216.6 L493.2,1224.7 L497.2,1232.8 L502.6,1236.9 L505.3,1238.3M487.7,1203.1 L493.2,1207.1 L499.9,1213.9 L505.3,1219.3 L508.0,1227.4 L510.1,1236.9 L505.3,1238.3M405.2,1200.4 L409.3,1203.7 L412.0,1209.8 L414.7,1214.6 L412.6,1218.0 L406.6,1219.3 L403.8,1216.6 L403.8,1209.8 ZM573.4,1133.8 L566.6,1139.5 L559.8,1143.5 L551.7,1143.5 L546.3,1147.6 L538.2,1150.3 L534.1,1152.3 L530.1,1148.3 L523.3,1150.3 L517.9,1155.7 L515.9,1161.1 L519.2,1166.5 L524.7,1170.6 L528.7,1176.0 L531.4,1181.4 L531.4,1189.5 L530.1,1195.0 L524.7,1198.3 L519.2,1200.4 L516.5,1205.1 L512.5,1205.8 L512.5,1200.4 L507.1,1196.3 L501.7,1190.9 L496.2,1187.5 L493.5,1186.2 L491.5,1190.9 L488.1,1196.3 L486.8,1203.1M528.0,1159.1 L530.7,1155.7 L535.5,1154.4 L538.9,1157.1 L538.2,1161.1 L534.1,1163.8 L530.1,1163.2 ZM580.1,1134.1 L578.1,1140.8 L581.5,1146.9 L584.9,1142.2 L586.2,1134.1M580.1,1163.2 L587.6,1162.5 L588.9,1169.2 L584.9,1176.0 L586.9,1181.4 L592.3,1182.8 L597.7,1188.2 L601.8,1190.9 L603.1,1196.3 L599.1,1200.4 L604.5,1204.4 L601.8,1208.5 L596.4,1207.1 L591.0,1203.1 L588.3,1196.3 L582.8,1189.5 L578.8,1184.1 L576.8,1177.4 L577.4,1171.9 ZM581.5,1184.1 L585.5,1186.8 L584.2,1190.9 L580.8,1188.2 ZM588.3,1185.5 L593.7,1186.8 L596.4,1192.2 L592.3,1193.6 L588.3,1189.5 ZM592.3,1196.3 L597.7,1195.0 L600.4,1199.0 L596.4,1203.1 L592.3,1200.4 ZM595.0,1213.9 L599.1,1212.5 L605.2,1215.3 L601.8,1220.0 L596.4,1218.0 ZM565.3,1213.9 L569.3,1218.0 L574.7,1222.0 L570.7,1226.1 L568.0,1231.5 L569.3,1236.9 L572.0,1239.6 L568.0,1242.3 L565.3,1249.1 L562.5,1255.8 L559.8,1259.9 L555.1,1261.9 L550.4,1258.6 L543.6,1257.2 L536.8,1257.9 L534.1,1251.8 L531.4,1245.0 L530.1,1238.3 L534.1,1236.2 L540.9,1231.5 L547.7,1230.1 L553.1,1224.7 L558.5,1219.3 ZM577.4,1241.0 L585.5,1238.3 L595.0,1239.6 L600.4,1237.6 L599.1,1241.0 L593.7,1243.0 L588.3,1243.7 L582.8,1245.0 L580.1,1249.1 L586.9,1247.7 L592.3,1247.7 L586.9,1251.8 L584.2,1254.5 L588.3,1259.9 L591.6,1265.3 L589.6,1267.3 L585.5,1262.6 L581.5,1255.8 L579.5,1259.9 L580.1,1268.0 L576.1,1268.0 L575.4,1259.9 L573.4,1257.2 L574.7,1250.4 L576.1,1245.0 ZM609.9,1234.9 L614.0,1236.9 L614.0,1243.7 L611.9,1247.7 L609.9,1242.3 ZM515.9,1268.7 L524.7,1272.1 L534.1,1272.1 L543.6,1273.4 L550.4,1276.1 L558.5,1278.8 L566.6,1280.2 L574.7,1281.6 L574.7,1284.3 L566.6,1283.6 L558.5,1282.2 L550.4,1280.2 L539.5,1277.5 L531.4,1276.1 L520.6,1274.8 L515.2,1272.1 ZM574.7,1280.2 L582.8,1279.5 L592.3,1279.5 L597.7,1278.8 L605.8,1276.8 L608.6,1280.2 L601.8,1282.9 L592.3,1283.6 L582.8,1284.3 L574.7,1284.3M592.3,1287.6 L599.1,1283.6 L607.2,1280.2 L608.6,1281.6 L600.4,1287.0 L593.7,1289.7 ZM613.3,1256.5 L623.4,1257.9 L622.8,1260.6 L614.0,1259.2 ZM621.4,1245.0 L628.8,1246.4 L632.9,1245.0 L638.3,1247.7 L639.0,1252.5 L635.6,1255.2 L630.2,1253.8 L626.1,1250.4 ZM630.2,1253.8 L632.9,1258.6 L639.7,1259.9 L645.1,1255.8 L649.1,1251.8 L655.9,1250.4 L665.4,1253.8 L674.9,1257.9 L683.0,1260.6 L688.4,1265.3 L691.1,1268.7 L695.2,1270.1 L696.5,1273.4 L699.2,1278.8 L704.6,1284.3 L710.0,1287.6 L708.7,1291.0 L701.9,1288.3 L695.2,1282.9 L689.1,1278.2 L683.0,1276.1 L678.9,1280.2 L674.9,1284.3 L669.4,1282.9 L661.3,1278.8 L654.6,1279.5 L657.3,1273.4 L655.9,1268.0 L650.5,1264.0 L642.4,1261.3 L635.6,1258.6M699.2,1268.7 L710.0,1265.3 L714.1,1261.9 L710.7,1256.5 L718.2,1258.6 L721.5,1263.3 L715.5,1266.7 L708.7,1269.4 L699.2,1271.4 ZM549.0,1355.3 L550.4,1346.5 L552.4,1341.8 L561.2,1335.7 L569.3,1334.3 L580.1,1330.3 L585.5,1324.9 L586.9,1319.4 L592.3,1315.4 L596.4,1311.3 L600.4,1305.9 L607.2,1304.6 L611.9,1310.0 L619.4,1309.3 L621.4,1303.2 L623.4,1297.8 L620.7,1295.1 L626.1,1293.7 L632.9,1294.4 L642.4,1297.1 L650.5,1297.8 L649.8,1303.2 L645.8,1304.6 L645.8,1311.3 L650.5,1315.4 L658.6,1319.4 L664.0,1322.8 L668.1,1319.4 L669.4,1312.7 L671.5,1305.9 L672.2,1297.8 L674.2,1291.0 L676.9,1292.4 L678.9,1300.5 L681.6,1305.9 L687.0,1308.6 L689.7,1319.4 L691.1,1326.2 L696.5,1330.3 L701.9,1335.7 L704.6,1341.1 L711.4,1346.5 L715.5,1353.3 L717.5,1355.3M470.6,1220.8 L474.1,1219.4 L481.2,1220.5 L486.1,1225.8 L491.1,1230.0 L494.6,1234.2 L499.5,1235.3 L503.8,1238.1 L505.9,1241.3 L508.0,1244.8 L510.8,1249.0 L513.6,1252.6 L516.5,1250.1 L518.6,1254.0 L521.4,1256.1 L517.2,1258.2 L516.8,1263.9 L516.5,1268.8 L510.8,1268.8 L505.2,1263.9 L499.5,1258.9 L495.3,1254.0 L493.2,1249.0 L490.3,1244.1 L486.8,1239.2 L483.3,1234.2 L479.1,1230.0 L474.1,1225.8 L470.6,1222.2 ZM524.6,1256.5 L526.3,1254.7 L528.1,1256.5 L526.3,1258.2 ZM767.4,1334.3 L774.1,1337.0 L780.9,1343.1 L777.5,1342.7 L770.7,1339.1 ZM824.2,1322.2 L826.9,1320.1 L830.3,1321.1 L828.9,1323.8 L825.5,1324.2 ZM939.2,1157.7 L942.6,1156.4 L945.3,1159.1 L941.2,1161.8 ZM1126.4,1133.8 L1133.2,1134.7 L1140.0,1141.5 L1138.6,1143.5 L1133.2,1138.1 L1129.1,1135.4M1145.4,1133.8 L1150.8,1138.1 L1156.2,1143.5 L1158.2,1150.3 L1155.5,1155.0 L1158.9,1159.1 L1165.7,1163.2 L1171.1,1165.9 L1179.2,1169.9 L1188.7,1173.3 L1196.8,1175.3 L1202.9,1172.6 L1209.0,1176.7 L1214.4,1182.1 L1220.1,1184.1M1190.0,1133.8 L1189.4,1143.5 L1191.4,1151.7 L1196.8,1159.8 L1204.9,1164.5 L1213.0,1162.5 L1220.1,1160.4M1200.0,1173.3 L1205.4,1174.7 L1212.2,1180.1 L1220.3,1184.1 L1227.1,1186.8 L1233.8,1189.5 L1240.6,1196.3 L1244.7,1201.7 L1251.4,1205.8 L1258.2,1208.5 L1263.6,1213.2 L1266.3,1211.2 L1267.7,1207.1 L1270.4,1205.1 L1274.4,1208.5 L1277.1,1215.3 L1277.8,1224.7 L1275.8,1230.8 L1271.7,1236.9 L1267.7,1242.3 L1263.6,1249.1 L1263.6,1255.2 L1267.0,1256.5 L1264.3,1260.6 L1260.2,1263.3 L1262.2,1269.4 L1266.3,1273.4 L1270.4,1280.2 L1273.7,1287.0 L1277.8,1292.4 L1279.8,1299.1 L1283.2,1304.6 L1286.6,1310.6 L1293.4,1315.4 L1301.5,1319.4 L1308.3,1324.9 L1308.9,1333.0 L1307.6,1345.2 L1306.9,1355.3M1200.0,1163.2 L1208.1,1162.5 L1217.6,1161.8 L1221.7,1158.4 L1222.3,1151.7 L1227.1,1149.6 L1236.5,1148.9 L1235.9,1157.1 L1232.5,1165.2 L1229.1,1174.7 L1235.2,1175.3 L1244.7,1175.3 L1251.4,1178.0 L1252.1,1186.8 L1250.7,1196.3 L1254.1,1200.4 L1260.9,1204.4 L1267.7,1203.7 L1273.1,1205.8 L1279.8,1209.2 L1283.9,1203.1 L1286.6,1197.7 L1293.4,1195.0 L1300.1,1191.6 L1304.2,1190.9 L1302.8,1195.0 L1302.2,1200.4 L1304.2,1204.4 L1305.5,1197.7 L1308.3,1192.2 L1315.0,1192.2 L1319.1,1196.3 L1325.8,1198.3 L1332.6,1199.7 L1339.4,1197.7 L1348.2,1197.0 L1347.5,1203.1 L1348.8,1207.1 L1355.6,1209.8 L1359.7,1213.9 L1366.4,1218.0 L1375.9,1219.3 L1382.7,1220.7 L1389.4,1226.1 L1393.5,1232.8 L1396.2,1238.3 L1394.9,1242.3 L1390.8,1245.7 L1392.2,1249.1 L1394.9,1245.7 L1401.6,1246.4 L1408.4,1247.1 L1415.2,1250.4 L1421.9,1254.5 L1430.0,1256.5 L1438.2,1255.8 L1444.9,1259.9 L1451.7,1264.0 L1460.1,1266.7M1460.1,1282.9 L1454.4,1289.7 L1447.6,1300.5 L1443.6,1307.3 L1444.9,1314.0 L1443.6,1322.2 L1440.9,1328.9 L1435.5,1338.4 L1428.7,1345.2 L1417.9,1349.2 L1411.1,1353.3 L1407.0,1355.3M1246.0,1147.6 L1251.4,1142.9 L1259.5,1140.8 L1267.7,1142.9 L1275.8,1147.6 L1283.9,1151.7 L1289.3,1155.0 L1292.0,1157.1 L1286.6,1157.7 L1278.5,1155.7 L1273.1,1152.3 L1265.0,1147.6 L1256.8,1145.6 L1251.4,1146.9 ZM1294.7,1157.1 L1300.1,1155.7 L1306.9,1157.1 L1311.6,1160.4 L1309.6,1163.8 L1304.2,1165.9 L1304.2,1167.9 L1300.1,1163.8 L1294.7,1163.8 L1297.4,1160.4 ZM1274.2,1164.9 L1277.8,1162.9 L1281.6,1164.9 L1277.8,1166.9 ZM1320.8,1164.5 L1324.5,1162.9 L1328.3,1164.5 L1324.5,1166.3 ZM1313.4,1163.2 L1315.0,1161.5 L1316.6,1163.2 L1315.0,1164.8 ZM1440.0,1256.5 L1445.4,1260.6 L1452.2,1265.3 L1458.9,1266.0 L1461.0,1272.1 L1461.7,1278.8 L1458.9,1285.6 L1453.5,1291.0 L1449.5,1296.4 L1444.1,1303.2 L1442.7,1311.3 L1442.7,1319.4 L1440.7,1330.3M1546.9,1133.8 L1542.8,1139.5 L1540.1,1146.2 L1537.4,1151.7 L1540.8,1155.7 L1541.5,1165.2 L1540.1,1174.7 L1536.8,1180.1 L1538.8,1184.1 L1538.1,1189.5 L1544.2,1193.6 L1546.9,1197.7 L1552.3,1203.1 L1555.0,1211.2 L1561.8,1216.6 L1568.6,1222.0 L1578.0,1226.8 L1583.4,1223.4 L1592.9,1221.3 L1602.4,1224.0 L1611.9,1220.0 L1620.0,1216.6 L1629.4,1215.9 L1633.5,1219.3 L1634.9,1224.7 L1641.6,1226.1 L1648.4,1225.4 L1653.8,1231.5 L1652.4,1238.3 L1650.4,1246.4 L1651.1,1253.1 L1656.5,1258.6 L1661.9,1265.3 L1664.6,1272.1 L1668.7,1280.2 L1670.0,1288.3 L1670.7,1295.1 L1666.0,1301.9 L1664.0,1311.3 L1661.2,1319.4 L1664.0,1327.6 L1668.7,1335.7 L1672.7,1343.8 L1674.1,1355.3M1668.7,1182.8 L1673.4,1184.8 L1676.8,1186.8 L1672.1,1189.5 ZM1761.3,1133.8 L1765.4,1142.2 L1770.8,1147.6 L1772.2,1159.8 L1777.6,1165.2 L1781.6,1173.3 L1788.4,1180.1 L1795.2,1186.2 L1797.9,1189.5 L1797.2,1193.6 L1801.9,1199.0 L1807.3,1198.3 L1810.4,1195.0M1770.8,1133.8 L1778.9,1140.8 L1780.3,1151.7 L1787.0,1157.1 L1791.1,1165.2 L1795.2,1171.9 L1796.5,1180.1 L1797.9,1188.2 L1804.6,1188.2 L1810.4,1185.5M1810.4,1234.2 L1803.3,1238.3 L1796.5,1245.0 L1789.7,1251.8 L1784.3,1257.2 L1781.6,1264.0 L1778.2,1270.1 L1781.6,1273.4 L1780.3,1278.8 L1783.0,1285.6 L1785.7,1289.7 L1786.4,1299.1 L1787.0,1310.0 L1783.0,1315.4 L1778.9,1319.4 L1772.2,1320.8 L1766.7,1326.2 L1760.0,1333.7 L1762.7,1337.0 L1764.0,1346.5 L1762.0,1355.3M1810.4,1312.0 L1804.6,1314.0 L1800.6,1319.4 L1801.9,1326.2 L1802.6,1333.0 L1799.2,1338.4 L1797.2,1343.8 L1799.2,1350.6 L1799.2,1355.3M1747.8,1246.4 L1751.9,1243.0 L1757.3,1243.0 L1758.6,1247.1 L1755.9,1253.8 L1749.1,1255.8 L1747.1,1251.8 Z" stroke="#000" stroke-width="2.1" fill="none" stroke-linejoin="round" stroke-linecap="round" shape-rendering="crispEdges"/>
<path d="M461.0,1186.8 L461.2,1192.9M480.3,1238.3 L483.7,1242.3M486.4,1249.1 L488.4,1252.5M566.6,1204.4 L576.8,1196.3M609.9,1249.8 L613.3,1251.1M574.7,1286.3 L580.8,1288.3M547.7,1275.5 L553.1,1277.5M562.5,1280.2 L572.0,1281.6M597.7,1279.5 L607.2,1278.2M597.7,1251.8 L600.4,1251.8M639.9,1268.0 L639.0,1273.4M727.6,1267.3 L730.3,1272.1 L735.8,1274.8 L740.1,1276.8M727.4,1268.7 L730.8,1273.2M732.9,1272.8 L737.6,1275.1M738.3,1278.8 L740.3,1279.9M744.4,1277.2 L748.4,1278.8M753.8,1281.6 L756.5,1287.0 L759.9,1291.3M778.9,1309.3 L783.6,1317.0M830.3,1318.1 L835.7,1315.7M866.1,1302.5 L873.6,1305.2M920.9,1147.6 L925.7,1146.2M929.7,1149.6 L936.5,1151.7 L939.9,1155.7M1736.3,1258.6 L1737.0,1266.7 L1740.4,1273.4 L1744.4,1281.6M1757.9,1285.6 L1758.6,1296.4 L1762.7,1306.6" stroke="#000" stroke-width="2.6" fill="none" stroke-linejoin="round" stroke-linecap="round"/>
<ellipse cx="293.3" cy="1189.7" rx="2.4" ry="1.1" fill="#000"/>
<ellipse cx="300.3" cy="1337.0" rx="1.6" ry="1.2" fill="#000"/>
<ellipse cx="308.9" cy="1333.0" rx="1.5" ry="1.1" fill="#000"/>
<ellipse cx="475.6" cy="1233.5" rx="1.4" ry="0.9" fill="#000"/>
<ellipse cx="586.9" cy="1214.6" rx="1.1" ry="0.9" fill="#000"/>
<ellipse cx="607.2" cy="1259.2" rx="1.9" ry="1.4" fill="#000"/>
<ellipse cx="626.1" cy="1276.8" rx="1.1" ry="1.4" fill="#000"/>
<ellipse cx="645.8" cy="1247.7" rx="1.6" ry="1.4" fill="#000"/>
<ellipse cx="693.4" cy="1252.9" rx="0.9" ry="0.9" fill="#000"/>
<ellipse cx="593.0" cy="1318.1" rx="1.1" ry="1.9" fill="#000"/>
<ellipse cx="720.0" cy="1263.3" rx="1.1" ry="1.9" fill="#000"/>
<ellipse cx="749.8" cy="1285.6" rx="2.7" ry="1.4" fill="#000"/>
<ellipse cx="967.6" cy="1321.5" rx="0.9" ry="1.1" fill="#000"/>
<ellipse cx="967.4" cy="1321.5" rx="0.9" ry="0.9" fill="#000"/>
<ellipse cx="1292.0" cy="1163.8" rx="1.9" ry="1.1" fill="#000"/>
<ellipse cx="1259.5" cy="1135.4" rx="1.1" ry="0.9" fill="#000"/>
<ellipse cx="1275.8" cy="1136.1" rx="1.1" ry="0.9" fill="#000"/>
<ellipse cx="1286.6" cy="1138.1" rx="1.1" ry="0.9" fill="#000"/>
<ellipse cx="1292.0" cy="1144.9" rx="1.1" ry="0.9" fill="#000"/>
<ellipse cx="1297.4" cy="1146.2" rx="1.1" ry="0.9" fill="#000"/>
<ellipse cx="1301.5" cy="1147.6" rx="1.1" ry="0.9" fill="#000"/>
<ellipse cx="1294.7" cy="1151.0" rx="1.1" ry="0.9" fill="#000"/>
<ellipse cx="1254.1" cy="1148.3" rx="1.1" ry="0.9" fill="#000"/>
<ellipse cx="1345.5" cy="1173.3" rx="1.1" ry="1.1" fill="#000"/>
<ellipse cx="1348.8" cy="1180.7" rx="0.9" ry="0.9" fill="#000"/>
<ellipse cx="1218.3" cy="1246.4" rx="1.4" ry="2.2" fill="#000"/>
<ellipse cx="1303.5" cy="1203.1" rx="1.1" ry="1.4" fill="#000"/>
<ellipse cx="1346.8" cy="1199.7" rx="1.6" ry="1.6" fill="#000"/>
<path d="M260.4,1195.0 C264.0,1194.5 271.6,1193.3 282.0,1192.2 C292.4,1191.1 309.1,1189.3 322.7,1188.5 C336.2,1187.7 349.8,1187.5 363.3,1187.5 C376.8,1187.5 390.4,1187.6 403.9,1188.2 C417.4,1188.8 430.9,1189.9 444.4,1190.9 C457.9,1191.9 471.2,1192.9 485.0,1194.2 C498.8,1195.5 513.8,1197.0 527.4,1199.0 C541.0,1201.0 552.0,1203.3 566.6,1206.5 C581.2,1209.7 598.2,1214.1 615.3,1218.0 C632.4,1221.9 649.1,1225.5 669.4,1230.1 C689.7,1234.7 724.6,1242.9 737.1,1245.7 C749.6,1248.5 738.6,1245.7 744.4,1247.0 C750.2,1248.3 762.9,1251.6 772.1,1253.8 C781.3,1256.0 791.0,1258.4 799.8,1260.4 C808.6,1262.4 816.3,1264.0 824.9,1266.0 C833.5,1268.0 842.3,1270.1 851.3,1272.1 C860.3,1274.1 869.6,1276.3 879.0,1278.2 C888.4,1280.1 898.0,1282.0 907.4,1283.6 C916.8,1285.2 926.0,1286.2 935.2,1287.8 C944.4,1289.4 953.5,1291.7 962.8,1293.2 C972.1,1294.7 981.6,1295.9 990.9,1296.8 C1000.2,1297.7 1009.3,1298.2 1018.5,1298.7 C1027.7,1299.2 1037.0,1299.7 1046.2,1300.0 C1055.4,1300.3 1064.6,1300.6 1073.7,1300.8 C1082.8,1301.0 1091.8,1301.0 1101.0,1300.9 C1110.2,1300.8 1119.6,1300.5 1128.9,1300.2 C1138.2,1299.9 1147.6,1299.5 1156.9,1299.0 C1166.2,1298.5 1175.6,1297.9 1184.9,1297.2 C1194.2,1296.5 1203.4,1295.8 1212.6,1294.6 C1221.8,1293.3 1230.8,1291.2 1239.9,1289.7 C1249.0,1288.2 1261.5,1286.5 1267.0,1285.6 C1272.5,1284.7 1261.6,1286.5 1273.0,1284.3 C1284.4,1282.0 1313.6,1276.5 1335.3,1272.1 C1357.0,1267.7 1382.7,1262.5 1403.0,1257.9 C1423.3,1253.3 1448.0,1246.6 1457.0,1244.3" stroke="#c81414" stroke-width="1" fill="none"/>
<path d="M1563.8,1244.3 C1566.5,1243.6 1566.0,1243.7 1580.0,1240.3 C1594.0,1236.9 1625.2,1229.1 1647.7,1224.0 C1670.2,1218.9 1692.8,1214.3 1715.3,1209.8 C1737.8,1205.3 1767.2,1199.7 1783.0,1197.0 C1798.8,1194.3 1805.8,1194.2 1810.4,1193.6" stroke="#c81414" stroke-width="1" fill="none"/>
<path d="M259.0,1212.1 L282.0,1213.2 L309.1,1213.5 L336.2,1212.8 L363.3,1212.1 L390.3,1211.2 L403.9,1209.8 L430.9,1209.2 L458.0,1208.8 L485.0,1208.8 L520.6,1209.6 L547.7,1210.5 L574.7,1210.9 L601.8,1210.5 L615.3,1209.2 L642.4,1208.8 L669.4,1209.8 L696.5,1211.9 L723.6,1214.8 L760.6,1220.0 L801.2,1226.8 L841.8,1234.2 L882.4,1240.3 L923.0,1245.7 L970.0,1250.0 L1014.1,1256.5 L1068.3,1264.0 L1122.4,1272.1 L1163.0,1277.5 L1180.0,1281.6 L1200.0,1286.0 L1220.0,1290.8 L1244.0,1293.6 L1260.0,1296.0 L1280.0,1297.4 L1288.0,1297.4 L1300.0,1294.4 L1320.0,1288.4 L1340.0,1282.8 L1352.9,1279.8 L1362.4,1276.1 L1382.7,1265.3 L1403.0,1254.5 L1416.5,1247.7 L1438.0,1236.9 L1460.3,1224.7 L1480.6,1213.9 L1500.9,1208.5 L1521.2,1203.1 L1541.5,1198.3 L1561.8,1197.0 L1588.8,1195.9 L1615.9,1195.6 L1643.0,1196.3 L1670.0,1197.6 L1690.0,1200.0 L1708.6,1203.1 L1735.6,1206.5 L1762.7,1209.2 L1789.7,1211.2 L1812.0,1212.3" stroke="#14ee14" stroke-width="5.6" fill="none" stroke-linejoin="round"/>
<path d="M737.8,1252.2L747.4,1254.4L750.2,1241.7L740.6,1239.6ZM751.4,1255.4L761.0,1257.8L764.1,1245.2L754.5,1242.8ZM765.2,1258.8L774.8,1261.1L777.9,1248.5L768.3,1246.2ZM779.0,1262.2L788.6,1264.4L791.6,1251.8L782.0,1249.5ZM792.8,1265.4L802.4,1267.7L805.3,1255.0L795.7,1252.8ZM806.7,1268.6L816.3,1270.7L819.0,1258.0L809.4,1255.9ZM820.4,1271.6L830.0,1273.8L832.9,1261.2L823.3,1259.0ZM834.1,1274.8L843.7,1277.0L846.7,1264.4L837.1,1262.1ZM847.9,1278.0L857.5,1280.2L860.4,1267.5L850.8,1265.3ZM861.7,1281.1L871.3,1283.2L874.1,1270.5L864.5,1268.4ZM875.6,1284.1L885.2,1286.1L887.8,1273.3L878.2,1271.4ZM889.5,1286.9L899.1,1288.7L901.5,1276.0L891.9,1274.1ZM903.4,1289.5L913.0,1291.1L915.1,1278.2L905.5,1276.7ZM917.3,1291.7L926.9,1293.1L928.7,1280.2L919.1,1278.8ZM930.8,1293.7L940.4,1295.4L942.7,1282.6L933.1,1280.9ZM944.4,1296.2L954.0,1298.2L956.7,1285.5L947.1,1283.5ZM958.5,1299.1L968.1,1300.6L970.1,1287.7L960.5,1286.2ZM972.5,1301.2L982.1,1302.4L983.7,1289.5L974.1,1288.3ZM986.4,1302.9L996.0,1303.8L997.3,1290.8L987.7,1289.9ZM1000.4,1304.1L1010.0,1304.7L1010.8,1291.8L1001.2,1291.1ZM1014.2,1305.0L1023.8,1305.5L1024.6,1292.5L1015.0,1292.0ZM1028.1,1305.7L1037.7,1306.2L1038.3,1293.2L1028.7,1292.7ZM1041.9,1306.3L1051.5,1306.7L1052.0,1293.7L1042.4,1293.3ZM1055.7,1306.8L1065.3,1307.1L1065.7,1294.1L1056.1,1293.8ZM1069.6,1307.2L1079.2,1307.4L1079.4,1294.4L1069.8,1294.2ZM1083.4,1307.4L1093.0,1307.5L1093.1,1294.5L1083.5,1294.4ZM1097.3,1307.4L1106.9,1307.3L1106.7,1294.3L1097.1,1294.4ZM1111.2,1307.2L1120.8,1307.0L1120.4,1294.0L1110.8,1294.2ZM1125.0,1306.8L1134.6,1306.5L1134.1,1293.5L1124.5,1293.8ZM1138.8,1306.3L1148.4,1305.9L1147.9,1292.9L1138.3,1293.4ZM1152.6,1305.7L1162.2,1305.2L1161.6,1292.2L1152.0,1292.7ZM1166.5,1305.0L1176.1,1304.4L1175.3,1291.4L1165.7,1292.0ZM1180.3,1304.1L1189.9,1303.3L1188.9,1290.4L1179.3,1291.1ZM1194.2,1303.0L1203.8,1302.2L1202.6,1289.2L1193.0,1290.0ZM1208.3,1301.7L1217.9,1300.4L1216.1,1287.5L1206.5,1288.8ZM1222.4,1299.6L1232.0,1297.8L1229.5,1285.0L1219.9,1286.8ZM1236.0,1297.0L1245.6,1295.4L1243.4,1282.6L1233.8,1284.2ZM1249.6,1294.8L1259.2,1293.3L1257.3,1280.5L1247.7,1281.9ZM1263.6,1292.7L1273.1,1291.0L1270.9,1278.2L1261.3,1279.9Z" fill="#ff0a0a"/>
</g>
<path d="M258.5,1212.1L261,1212.1" stroke="#14ee14" stroke-width="5.6"/><path d="M1810,1212.3L1812.5,1212.3" stroke="#14ee14" stroke-width="5.6"/>
<path d="M684.3,1177.3 L686.1,1182.8 L691.9,1182.8 L687.2,1186.3 L689.0,1191.8 L684.3,1188.4 L679.6,1191.8 L681.4,1186.3 L676.7,1182.8 L682.5,1182.8 ZM782.2,1195.5 L784.0,1201.0 L789.8,1201.0 L785.1,1204.5 L786.9,1210.0 L782.2,1206.6 L777.5,1210.0 L779.3,1204.5 L774.6,1201.0 L780.4,1201.0 ZM933.1,1227.4 L934.9,1232.9 L940.7,1232.9 L936.0,1236.4 L937.8,1241.9 L933.1,1238.5 L928.4,1241.9 L930.2,1236.4 L925.5,1232.9 L931.3,1232.9 ZM1279.8,1289.6 L1281.6,1295.1 L1287.4,1295.1 L1282.7,1298.6 L1284.5,1304.1 L1279.8,1300.7 L1275.1,1304.1 L1276.9,1298.6 L1272.2,1295.1 L1278.0,1295.1 ZM1419.9,1247.7 L1421.7,1253.2 L1427.5,1253.2 L1422.8,1256.7 L1424.6,1262.2 L1419.9,1258.8 L1415.2,1262.2 L1417.0,1256.7 L1412.3,1253.2 L1418.1,1253.2 Z" stroke="#cc33cc" stroke-width="1" fill="none"/>
<g shape-rendering="crispEdges">
<path d="M260,1179.5h16M1810,1179.5h-16M260,1244.5h16M1810,1244.5h-16M260,1309.5h16M1810,1309.5h-16M440.5,1133v16M440.5,1355v-16M620.5,1133v16M620.5,1355v-16M800.5,1133v16M800.5,1355v-16M980.5,1133v16M980.5,1355v-16M1162.5,1133v16M1162.5,1355v-16M1343.5,1133v16M1343.5,1355v-16M1629.5,1133v16M1629.5,1355v-16" stroke="#000" stroke-width="1" fill="none"/>
<rect x="260.5" y="1133.5" width="1550" height="222" fill="none" stroke="#000" stroke-width="1"/>
</g>
<text x="251" y="1193" font-family="Liberation Sans, sans-serif" font-size="27.78" text-anchor="end">15<tspan font-size="21" dy="-14">o</tspan><tspan dy="14">N</tspan></text>
<text x="251" y="1322" font-family="Liberation Sans, sans-serif" font-size="27.78" text-anchor="end">15<tspan font-size="21" dy="-14">o</tspan><tspan dy="14">S</tspan></text>
<text x="215.6" y="1257.3" font-family="Liberation Sans, sans-serif" font-size="27.78">0<tspan font-size="21" dy="-12" dx="0.6">o</tspan></text>
<text x="256" y="1401.3" font-family="Liberation Sans, sans-serif" font-size="27.78" text-anchor="middle" xml:space="preserve">GLON</text>
<text x="439.5" y="1401.3" font-family="Liberation Sans, sans-serif" font-size="27.78" text-anchor="middle" xml:space="preserve">088.1</text>
<text x="619.5" y="1401.3" font-family="Liberation Sans, sans-serif" font-size="27.78" text-anchor="middle" xml:space="preserve">129.9</text>
<text x="799.5" y="1401.3" font-family="Liberation Sans, sans-serif" font-size="27.78" text-anchor="middle" xml:space="preserve">171.7</text>
<text x="979.5" y="1401.3" font-family="Liberation Sans, sans-serif" font-size="27.78" text-anchor="middle" xml:space="preserve">213.6</text>
<text x="1161.5" y="1401.3" font-family="Liberation Sans, sans-serif" font-size="27.78" text-anchor="middle" xml:space="preserve">255.7</text>
<text x="1342.5" y="1401.3" font-family="Liberation Sans, sans-serif" font-size="27.78" text-anchor="middle" xml:space="preserve">297.9</text>
<text x="1628.5" y="1401.3" font-family="Liberation Sans, sans-serif" font-size="27.78" text-anchor="middle" xml:space="preserve">004.2</text>
<text x="1809.5" y="1401.3" font-family="Liberation Sans, sans-serif" font-size="27.78" text-anchor="middle" xml:space="preserve">046.2</text>
<text x="256" y="1442.1" font-family="Liberation Sans, sans-serif" font-size="27.78" text-anchor="middle" xml:space="preserve">GLAT</text>
<text x="439.5" y="1442.1" font-family="Liberation Sans, sans-serif" font-size="27.78" text-anchor="middle" xml:space="preserve">+12.5</text>
<text x="619.5" y="1442.1" font-family="Liberation Sans, sans-serif" font-size="27.78" text-anchor="middle" xml:space="preserve">+06.3</text>
<text x="799.5" y="1442.1" font-family="Liberation Sans, sans-serif" font-size="27.78" text-anchor="middle" xml:space="preserve">-03.9</text>
<text x="979.5" y="1442.1" font-family="Liberation Sans, sans-serif" font-size="27.78" text-anchor="middle" xml:space="preserve">-11.6</text>
<text x="1161.5" y="1442.1" font-family="Liberation Sans, sans-serif" font-size="27.78" text-anchor="middle" xml:space="preserve">-12.5</text>
<text x="1342.5" y="1442.1" font-family="Liberation Sans, sans-serif" font-size="27.78" text-anchor="middle" xml:space="preserve">-06.2</text>
<text x="1628.5" y="1442.1" font-family="Liberation Sans, sans-serif" font-size="27.78" text-anchor="middle" xml:space="preserve">+03.8</text>
<text x="1809.5" y="1442.1" font-family="Liberation Sans, sans-serif" font-size="27.78" text-anchor="middle" xml:space="preserve">+11.6</text>
<text x="256" y="1483.0" font-family="Liberation Sans, sans-serif" font-size="27.78" text-anchor="middle" xml:space="preserve"> GALT</text>
<text x="439.5" y="1483.0" font-family="Liberation Sans, sans-serif" font-size="27.78" text-anchor="middle" xml:space="preserve"> 812</text>
<text x="619.5" y="1483.0" font-family="Liberation Sans, sans-serif" font-size="27.78" text-anchor="middle" xml:space="preserve"> 834</text>
<text x="799.5" y="1483.0" font-family="Liberation Sans, sans-serif" font-size="27.78" text-anchor="middle" xml:space="preserve"> 724</text>
<text x="979.5" y="1483.0" font-family="Liberation Sans, sans-serif" font-size="27.78" text-anchor="middle" xml:space="preserve"> 556</text>
<text x="1161.5" y="1483.0" font-family="Liberation Sans, sans-serif" font-size="27.78" text-anchor="middle" xml:space="preserve"> 432</text>
<text x="1342.5" y="1483.0" font-family="Liberation Sans, sans-serif" font-size="27.78" text-anchor="middle" xml:space="preserve"> 410</text>
<text x="1628.5" y="1483.0" font-family="Liberation Sans, sans-serif" font-size="27.78" text-anchor="middle" xml:space="preserve"> 512</text>
<text x="1809.5" y="1483.0" font-family="Liberation Sans, sans-serif" font-size="27.78" text-anchor="middle" xml:space="preserve"> 678</text>
<text x="256" y="1523.8" font-family="Liberation Sans, sans-serif" font-size="27.78" text-anchor="middle" xml:space="preserve">MLON</text>
<text x="439.5" y="1523.8" font-family="Liberation Sans, sans-serif" font-size="27.78" text-anchor="middle" xml:space="preserve">159.5</text>
<text x="619.5" y="1523.8" font-family="Liberation Sans, sans-serif" font-size="27.78" text-anchor="middle" xml:space="preserve">200.4</text>
<text x="799.5" y="1523.8" font-family="Liberation Sans, sans-serif" font-size="27.78" text-anchor="middle" xml:space="preserve">243.5</text>
<text x="979.5" y="1523.8" font-family="Liberation Sans, sans-serif" font-size="27.78" text-anchor="middle" xml:space="preserve">286.1</text>
<text x="1161.5" y="1523.8" font-family="Liberation Sans, sans-serif" font-size="27.78" text-anchor="middle" xml:space="preserve">327.5</text>
<text x="1342.5" y="1523.8" font-family="Liberation Sans, sans-serif" font-size="27.78" text-anchor="middle" xml:space="preserve">009.2</text>
<text x="1628.5" y="1523.8" font-family="Liberation Sans, sans-serif" font-size="27.78" text-anchor="middle" xml:space="preserve">075.6</text>
<text x="1809.5" y="1523.8" font-family="Liberation Sans, sans-serif" font-size="27.78" text-anchor="middle" xml:space="preserve">117.6</text>
<text x="256" y="1564.7" font-family="Liberation Sans, sans-serif" font-size="27.78" text-anchor="middle" xml:space="preserve">MLAT</text>
<text x="439.5" y="1564.7" font-family="Liberation Sans, sans-serif" font-size="27.78" text-anchor="middle" xml:space="preserve">+03.8</text>
<text x="619.5" y="1564.7" font-family="Liberation Sans, sans-serif" font-size="27.78" text-anchor="middle" xml:space="preserve">-01.9</text>
<text x="799.5" y="1564.7" font-family="Liberation Sans, sans-serif" font-size="27.78" text-anchor="middle" xml:space="preserve">-08.1</text>
<text x="979.5" y="1564.7" font-family="Liberation Sans, sans-serif" font-size="27.78" text-anchor="middle" xml:space="preserve">-09.5</text>
<text x="1161.5" y="1564.7" font-family="Liberation Sans, sans-serif" font-size="27.78" text-anchor="middle" xml:space="preserve">-05.1</text>
<text x="1342.5" y="1564.7" font-family="Liberation Sans, sans-serif" font-size="27.78" text-anchor="middle" xml:space="preserve">+06.9</text>
<text x="1628.5" y="1564.7" font-family="Liberation Sans, sans-serif" font-size="27.78" text-anchor="middle" xml:space="preserve">-09.4</text>
<text x="1809.5" y="1564.7" font-family="Liberation Sans, sans-serif" font-size="27.78" text-anchor="middle" xml:space="preserve">+02.8</text>
<text x="256" y="1605.5" font-family="Liberation Sans, sans-serif" font-size="27.78" text-anchor="middle" xml:space="preserve">UT</text>
<text x="439.5" y="1605.5" font-family="Liberation Sans, sans-serif" font-size="27.78" text-anchor="middle" xml:space="preserve">09:03</text>
<text x="619.5" y="1605.5" font-family="Liberation Sans, sans-serif" font-size="27.78" text-anchor="middle" xml:space="preserve">09:16</text>
<text x="799.5" y="1605.5" font-family="Liberation Sans, sans-serif" font-size="27.78" text-anchor="middle" xml:space="preserve">09:29</text>
<text x="979.5" y="1605.5" font-family="Liberation Sans, sans-serif" font-size="27.78" text-anchor="middle" xml:space="preserve">09:41</text>
<text x="1161.5" y="1605.5" font-family="Liberation Sans, sans-serif" font-size="27.78" text-anchor="middle" xml:space="preserve">09:53</text>
<text x="1342.5" y="1605.5" font-family="Liberation Sans, sans-serif" font-size="27.78" text-anchor="middle" xml:space="preserve">10:04</text>
<text x="1628.5" y="1605.5" font-family="Liberation Sans, sans-serif" font-size="27.78" text-anchor="middle" xml:space="preserve">08:39</text>
<text x="1809.5" y="1605.5" font-family="Liberation Sans, sans-serif" font-size="27.78" text-anchor="middle" xml:space="preserve">08:51</text>
<text x="256" y="1646.4" font-family="Liberation Sans, sans-serif" font-size="27.78" text-anchor="middle" xml:space="preserve">SLT </text>
<text x="439.5" y="1646.4" font-family="Liberation Sans, sans-serif" font-size="27.78" text-anchor="middle" xml:space="preserve">15:00</text>
<text x="619.5" y="1646.4" font-family="Liberation Sans, sans-serif" font-size="27.78" text-anchor="middle" xml:space="preserve">18:00</text>
<text x="799.5" y="1646.4" font-family="Liberation Sans, sans-serif" font-size="27.78" text-anchor="middle" xml:space="preserve">21:00</text>
<text x="979.5" y="1646.4" font-family="Liberation Sans, sans-serif" font-size="27.78" text-anchor="middle" xml:space="preserve">00:00</text>
<text x="1161.5" y="1646.4" font-family="Liberation Sans, sans-serif" font-size="27.78" text-anchor="middle" xml:space="preserve">03:00</text>
<text x="1342.5" y="1646.4" font-family="Liberation Sans, sans-serif" font-size="27.78" text-anchor="middle" xml:space="preserve">06:00</text>
<text x="1628.5" y="1646.4" font-family="Liberation Sans, sans-serif" font-size="27.78" text-anchor="middle" xml:space="preserve">09:00</text>
<text x="1809.5" y="1646.4" font-family="Liberation Sans, sans-serif" font-size="27.78" text-anchor="middle" xml:space="preserve">12:00</text>
<g transform="translate(1901,1662.7) rotate(-90)"><text font-family="Liberation Sans, sans-serif" font-size="21.64">Preliminary corrected calibration, 2/11/09</text></g>
<g transform="translate(1924.3,1662.7) rotate(-90)"><text font-family="Liberation Sans, sans-serif" font-size="21.24">Produced 28-May-2009 16:54:31</text></g>
</svg>
</body></html>
